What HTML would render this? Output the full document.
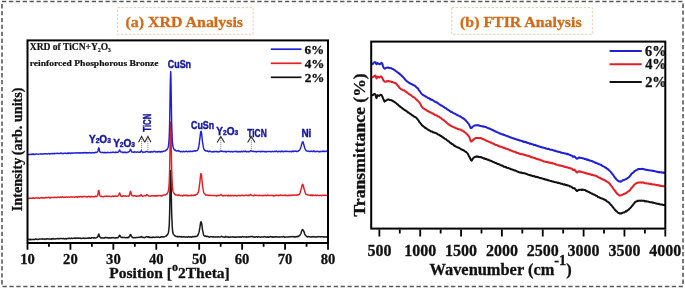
<!DOCTYPE html>
<html><head><meta charset="utf-8"><style>
html,body{margin:0;padding:0;background:#fff;}
body{width:685px;height:289px;overflow:hidden;}
svg{display:block;will-change:transform;}
.serif{font-family:"Liberation Serif",serif;font-weight:bold;}
.sans{font-family:"Liberation Sans",sans-serif;font-weight:bold;}
</style></head><body>
<svg width="685" height="289" viewBox="0 0 685 289">
<rect x="0" y="0" width="685" height="289" fill="#fff"/>
<!-- outer dashed border -->
<rect x="2" y="1.5" width="681" height="285" fill="none" stroke="#5a5a5a" stroke-width="1.6" stroke-dasharray="4.3 2.6"/>

<!-- title boxes -->
<rect x="117.6" y="7.6" width="135.5" height="26.7" fill="#fff" stroke="#eab890" stroke-width="0.8" stroke-dasharray="2.2 1.8"/>
<text class="serif" x="125.5" y="27.4" font-size="15.3" fill="#d26a16" stroke="#d26a16" stroke-width="0.3" textLength="117.5" lengthAdjust="spacingAndGlyphs">(a) XRD Analysis</text>
<rect x="451.8" y="7.6" width="140.5" height="26.7" fill="#fff" stroke="#eab890" stroke-width="0.8" stroke-dasharray="2.2 1.8"/>
<text class="serif" x="460.1" y="27.4" font-size="15.3" fill="#d26a16" stroke="#d26a16" stroke-width="0.3" textLength="121.5" lengthAdjust="spacingAndGlyphs">(b) FTIR Analysis</text>

<!-- ============ XRD ============ -->
<g fill="none" stroke-linejoin="round">
<path d="M27.5 239.6 L27.7 239.6 L27.9 239.5 L28.1 239.3 L28.4 239.5 L28.6 239.3 L28.8 239.3 L29.0 239.2 L29.2 239.6 L29.4 239.7 L29.6 239.7 L29.9 239.8 L30.1 239.4 L30.3 239.3 L30.5 239.3 L30.7 239.3 L30.9 239.4 L31.1 239.5 L31.4 239.6 L31.6 239.5 L31.8 239.7 L32.0 239.6 L32.2 239.6 L32.4 239.6 L32.7 239.5 L32.9 239.6 L33.1 239.6 L33.3 239.6 L33.5 239.6 L33.7 239.3 L33.9 239.3 L34.2 239.4 L34.4 239.4 L34.6 239.5 L34.8 239.5 L35.0 239.2 L35.2 239.2 L35.4 239.1 L35.7 238.9 L35.9 239.2 L36.1 239.2 L36.3 239.2 L36.5 239.2 L36.7 239.2 L36.9 239.1 L37.2 239.3 L37.4 239.5 L37.6 239.5 L37.8 239.6 L38.0 239.4 L38.2 239.2 L38.4 239.3 L38.7 239.2 L38.9 239.2 L39.1 239.2 L39.3 239.2 L39.5 238.9 L39.7 239.0 L39.9 239.1 L40.2 238.9 L40.4 239.1 L40.6 239.0 L40.8 239.0 L41.0 239.0 L41.2 238.9 L41.5 239.0 L41.7 239.0 L41.9 239.0 L42.1 239.0 L42.3 239.0 L42.5 238.8 L42.7 239.2 L43.0 239.1 L43.2 239.1 L43.4 239.1 L43.6 239.0 L43.8 239.1 L44.0 239.1 L44.2 239.0 L44.5 239.0 L44.7 239.1 L44.9 239.2 L45.1 239.4 L45.3 239.3 L45.5 239.2 L45.7 239.0 L46.0 238.8 L46.2 238.9 L46.4 238.8 L46.6 238.8 L46.8 238.9 L47.0 238.8 L47.2 239.0 L47.5 238.9 L47.7 238.8 L47.9 238.7 L48.1 238.8 L48.3 239.0 L48.5 239.1 L48.7 239.1 L49.0 239.0 L49.2 238.9 L49.4 239.0 L49.6 238.9 L49.8 238.9 L50.0 238.9 L50.3 238.9 L50.5 238.9 L50.7 239.2 L50.9 239.3 L51.1 239.4 L51.3 239.2 L51.5 238.9 L51.8 238.7 L52.0 238.6 L52.2 238.6 L52.4 238.7 L52.6 238.9 L52.8 238.7 L53.0 238.8 L53.3 238.6 L53.5 238.5 L53.7 238.7 L53.9 239.0 L54.1 239.0 L54.3 239.1 L54.5 239.0 L54.8 239.0 L55.0 239.1 L55.2 239.1 L55.4 239.0 L55.6 238.8 L55.8 238.7 L56.0 238.7 L56.3 238.8 L56.5 238.8 L56.7 238.8 L56.9 238.7 L57.1 238.6 L57.3 238.6 L57.6 238.6 L57.8 238.8 L58.0 238.8 L58.2 238.9 L58.4 238.7 L58.6 238.4 L58.8 238.4 L59.1 238.6 L59.3 238.7 L59.5 238.8 L59.7 238.8 L59.9 238.7 L60.1 238.5 L60.3 238.5 L60.6 238.5 L60.8 238.4 L61.0 238.5 L61.2 238.4 L61.4 238.4 L61.6 238.5 L61.8 238.5 L62.1 238.6 L62.3 238.7 L62.5 238.7 L62.7 238.8 L62.9 238.7 L63.1 238.7 L63.3 238.6 L63.6 238.4 L63.8 238.7 L64.0 238.7 L64.2 238.8 L64.4 238.8 L64.6 238.9 L64.8 238.7 L65.1 238.6 L65.3 238.7 L65.5 238.5 L65.7 238.7 L65.9 238.8 L66.1 238.9 L66.4 239.0 L66.6 238.7 L66.8 238.7 L67.0 238.5 L67.2 238.5 L67.4 238.5 L67.6 238.5 L67.9 238.6 L68.1 238.6 L68.3 238.6 L68.5 238.6 L68.7 238.3 L68.9 238.3 L69.1 238.1 L69.4 238.2 L69.6 238.4 L69.8 238.4 L70.0 238.6 L70.2 238.7 L70.4 238.6 L70.6 238.6 L70.9 238.6 L71.1 238.3 L71.3 238.3 L71.5 238.1 L71.7 238.2 L71.9 238.3 L72.1 238.4 L72.4 238.5 L72.6 238.4 L72.8 238.4 L73.0 238.3 L73.2 238.2 L73.4 238.3 L73.6 238.3 L73.9 238.3 L74.1 238.2 L74.3 238.2 L74.5 238.0 L74.7 238.0 L74.9 238.0 L75.2 238.1 L75.4 238.4 L75.6 238.2 L75.8 238.3 L76.0 238.2 L76.2 238.0 L76.4 238.2 L76.7 238.2 L76.9 238.0 L77.1 238.1 L77.3 238.0 L77.5 238.1 L77.7 238.1 L77.9 238.2 L78.2 238.3 L78.4 238.2 L78.6 238.2 L78.8 238.1 L79.0 238.0 L79.2 238.3 L79.4 238.3 L79.7 238.3 L79.9 238.2 L80.1 238.1 L80.3 238.2 L80.5 238.3 L80.7 238.4 L80.9 238.4 L81.2 238.2 L81.4 238.4 L81.6 238.4 L81.8 238.4 L82.0 238.4 L82.2 238.3 L82.4 238.2 L82.7 238.3 L82.9 238.3 L83.1 238.2 L83.3 238.2 L83.5 238.0 L83.7 238.0 L84.0 238.1 L84.2 238.3 L84.4 238.4 L84.6 238.5 L84.8 238.4 L85.0 238.4 L85.2 238.3 L85.5 238.2 L85.7 238.3 L85.9 238.3 L86.1 238.3 L86.3 238.3 L86.5 238.3 L86.7 238.3 L87.0 238.3 L87.2 238.3 L87.4 238.2 L87.6 238.1 L87.8 238.0 L88.0 238.0 L88.2 238.1 L88.5 238.0 L88.7 238.3 L88.9 238.3 L89.1 238.1 L89.3 238.2 L89.5 237.9 L89.7 237.8 L90.0 238.0 L90.2 237.9 L90.4 238.2 L90.6 238.3 L90.8 238.2 L91.0 238.3 L91.2 237.9 L91.5 237.8 L91.7 237.8 L91.9 237.7 L92.1 237.7 L92.3 237.8 L92.5 237.7 L92.8 237.7 L93.0 237.7 L93.2 237.8 L93.4 237.8 L93.6 238.0 L93.8 238.2 L94.0 238.1 L94.3 238.1 L94.5 237.9 L94.7 237.7 L94.9 237.8 L95.1 237.9 L95.3 238.1 L95.5 238.0 L95.8 238.0 L96.0 237.9 L96.2 237.8 L96.4 237.7 L96.6 237.5 L96.8 237.5 L97.0 237.3 L97.3 237.2 L97.5 237.2 L97.7 236.9 L97.9 236.7 L98.1 236.1 L98.3 235.2 L98.5 234.6 L98.8 234.0 L99.0 234.2 L99.2 235.0 L99.4 235.7 L99.6 236.2 L99.8 236.9 L100.0 237.0 L100.3 237.4 L100.5 237.8 L100.7 237.6 L100.9 237.9 L101.1 237.7 L101.3 237.7 L101.6 238.0 L101.8 237.9 L102.0 238.0 L102.2 238.0 L102.4 237.9 L102.6 237.8 L102.8 237.9 L103.1 237.9 L103.3 238.1 L103.5 238.1 L103.7 238.0 L103.9 238.0 L104.1 237.7 L104.3 237.8 L104.6 237.9 L104.8 237.9 L105.0 237.9 L105.2 237.8 L105.4 237.6 L105.6 237.4 L105.8 237.6 L106.1 237.6 L106.3 237.7 L106.5 237.7 L106.7 237.6 L106.9 237.7 L107.1 237.6 L107.3 237.8 L107.6 237.8 L107.8 237.8 L108.0 237.9 L108.2 238.0 L108.4 238.0 L108.6 237.9 L108.8 237.9 L109.1 237.7 L109.3 237.8 L109.5 237.7 L109.7 237.9 L109.9 237.9 L110.1 238.0 L110.4 238.1 L110.6 238.0 L110.8 237.8 L111.0 237.7 L111.2 237.6 L111.4 237.7 L111.6 237.9 L111.9 237.8 L112.1 237.7 L112.3 237.6 L112.5 237.7 L112.7 237.7 L112.9 237.7 L113.1 237.7 L113.4 237.5 L113.6 237.6 L113.8 237.7 L114.0 237.8 L114.2 237.9 L114.4 237.9 L114.6 238.0 L114.9 238.1 L115.1 238.1 L115.3 238.0 L115.5 238.0 L115.7 237.8 L115.9 237.8 L116.1 237.8 L116.4 237.9 L116.6 237.8 L116.8 237.7 L117.0 237.8 L117.2 237.5 L117.4 237.7 L117.7 237.7 L117.9 237.7 L118.1 237.6 L118.3 237.4 L118.5 237.2 L118.7 236.9 L118.9 236.5 L119.2 236.0 L119.4 235.5 L119.6 235.3 L119.8 235.3 L120.0 235.6 L120.2 236.2 L120.4 236.4 L120.7 236.8 L120.9 237.2 L121.1 237.3 L121.3 237.4 L121.5 237.5 L121.7 237.4 L121.9 237.4 L122.2 237.4 L122.4 237.2 L122.6 237.4 L122.8 237.3 L123.0 237.4 L123.2 237.5 L123.4 237.5 L123.7 237.5 L123.9 237.6 L124.1 237.7 L124.3 237.6 L124.5 237.5 L124.7 237.5 L124.9 237.5 L125.2 237.7 L125.4 237.8 L125.6 237.8 L125.8 237.7 L126.0 237.7 L126.2 237.6 L126.5 237.6 L126.7 237.7 L126.9 237.6 L127.1 237.6 L127.3 237.5 L127.5 237.6 L127.7 237.9 L128.0 237.8 L128.2 237.8 L128.4 237.4 L128.6 237.2 L128.8 237.1 L129.0 236.9 L129.2 237.0 L129.5 236.6 L129.7 236.1 L129.9 235.7 L130.1 234.9 L130.3 234.7 L130.5 234.6 L130.7 234.6 L131.0 235.1 L131.2 235.6 L131.4 236.1 L131.6 236.5 L131.8 236.9 L132.0 237.0 L132.2 237.1 L132.5 237.4 L132.7 237.5 L132.9 237.7 L133.1 237.8 L133.3 237.8 L133.5 237.9 L133.7 237.8 L134.0 237.8 L134.2 237.6 L134.4 237.6 L134.6 237.5 L134.8 237.6 L135.0 237.7 L135.3 237.6 L135.5 237.7 L135.7 237.7 L135.9 237.7 L136.1 237.6 L136.3 237.6 L136.5 237.4 L136.8 237.4 L137.0 237.4 L137.2 237.4 L137.4 237.6 L137.6 237.6 L137.8 237.6 L138.0 237.5 L138.3 237.4 L138.5 237.4 L138.7 237.3 L138.9 237.3 L139.1 237.3 L139.3 237.4 L139.5 237.4 L139.8 237.3 L140.0 237.2 L140.2 237.3 L140.4 237.3 L140.6 237.2 L140.8 237.0 L141.0 236.7 L141.3 236.5 L141.5 236.6 L141.7 236.7 L141.9 237.0 L142.1 237.0 L142.3 237.3 L142.5 237.4 L142.8 237.5 L143.0 237.6 L143.2 237.5 L143.4 237.5 L143.6 237.3 L143.8 237.5 L144.1 237.4 L144.3 237.4 L144.5 237.6 L144.7 237.4 L144.9 237.4 L145.1 237.4 L145.3 237.3 L145.6 237.2 L145.8 237.1 L146.0 236.8 L146.2 236.8 L146.4 236.7 L146.6 236.6 L146.8 236.8 L147.1 236.7 L147.3 236.8 L147.5 237.1 L147.7 237.2 L147.9 237.2 L148.1 237.0 L148.3 236.8 L148.6 236.8 L148.8 237.0 L149.0 237.2 L149.2 237.4 L149.4 237.2 L149.6 237.3 L149.8 237.4 L150.1 237.3 L150.3 237.5 L150.5 237.4 L150.7 237.4 L150.9 237.3 L151.1 237.4 L151.3 237.6 L151.6 237.5 L151.8 237.4 L152.0 237.2 L152.2 237.0 L152.4 237.2 L152.6 237.4 L152.9 237.4 L153.1 237.3 L153.3 237.3 L153.5 237.1 L153.7 237.3 L153.9 237.3 L154.1 237.3 L154.4 237.4 L154.6 237.4 L154.8 237.5 L155.0 237.3 L155.2 237.3 L155.4 237.2 L155.6 237.2 L155.9 237.4 L156.1 237.3 L156.3 237.2 L156.5 237.1 L156.7 237.0 L156.9 237.1 L157.1 237.1 L157.4 237.2 L157.6 237.3 L157.8 237.2 L158.0 237.1 L158.2 237.0 L158.4 237.1 L158.6 236.9 L158.9 237.1 L159.1 237.3 L159.3 237.2 L159.5 237.4 L159.7 237.5 L159.9 237.5 L160.1 237.3 L160.4 237.3 L160.6 237.0 L160.8 236.9 L161.0 236.8 L161.2 236.8 L161.4 236.8 L161.7 236.8 L161.9 237.0 L162.1 236.9 L162.3 237.0 L162.5 236.8 L162.7 236.9 L162.9 236.9 L163.2 236.9 L163.4 237.0 L163.6 237.0 L163.8 236.8 L164.0 236.9 L164.2 236.7 L164.4 236.7 L164.7 236.6 L164.9 236.5 L165.1 236.4 L165.3 236.2 L165.5 236.2 L165.7 236.1 L165.9 236.1 L166.2 236.1 L166.4 235.9 L166.6 235.6 L166.8 235.3 L167.0 235.1 L167.2 234.8 L167.4 234.6 L167.7 234.3 L167.9 233.9 L168.1 233.4 L168.3 233.0 L168.5 232.1 L168.7 230.9 L168.9 228.9 L169.2 225.7 L169.4 220.9 L169.6 214.2 L169.8 205.3 L170.0 194.7 L170.2 183.4 L170.5 174.1 L170.7 170.5 L170.9 174.3 L171.1 183.8 L171.3 195.0 L171.5 205.7 L171.7 214.5 L172.0 221.0 L172.2 225.9 L172.4 228.9 L172.6 231.2 L172.8 232.5 L173.0 233.1 L173.2 233.8 L173.5 234.3 L173.7 234.6 L173.9 235.0 L174.1 235.0 L174.3 235.1 L174.5 235.4 L174.7 235.6 L175.0 235.8 L175.2 235.8 L175.4 235.9 L175.6 236.0 L175.8 236.2 L176.0 236.5 L176.2 236.4 L176.5 236.5 L176.7 236.5 L176.9 236.5 L177.1 236.7 L177.3 236.4 L177.5 236.5 L177.8 236.5 L178.0 236.5 L178.2 236.8 L178.4 236.9 L178.6 236.8 L178.8 236.7 L179.0 236.6 L179.3 236.6 L179.5 236.7 L179.7 236.6 L179.9 236.6 L180.1 236.7 L180.3 236.8 L180.5 236.8 L180.8 236.9 L181.0 236.6 L181.2 236.6 L181.4 237.0 L181.6 236.8 L181.8 237.1 L182.0 237.0 L182.3 237.0 L182.5 236.9 L182.7 236.9 L182.9 237.0 L183.1 236.8 L183.3 237.0 L183.5 236.8 L183.8 236.8 L184.0 236.8 L184.2 236.7 L184.4 236.9 L184.6 237.1 L184.8 237.0 L185.0 237.0 L185.3 236.9 L185.5 236.8 L185.7 236.9 L185.9 236.9 L186.1 237.0 L186.3 237.1 L186.6 236.9 L186.8 237.0 L187.0 236.9 L187.2 236.9 L187.4 237.1 L187.6 236.9 L187.8 237.0 L188.1 236.9 L188.3 236.7 L188.5 236.6 L188.7 236.6 L188.9 236.7 L189.1 236.7 L189.3 237.0 L189.6 237.1 L189.8 237.2 L190.0 237.2 L190.2 237.0 L190.4 236.9 L190.6 236.7 L190.8 236.7 L191.1 236.8 L191.3 236.9 L191.5 237.0 L191.7 237.2 L191.9 237.0 L192.1 236.9 L192.3 236.8 L192.6 236.6 L192.8 236.6 L193.0 236.8 L193.2 236.9 L193.4 236.8 L193.6 236.8 L193.8 236.6 L194.1 236.4 L194.3 236.5 L194.5 236.6 L194.7 236.6 L194.9 236.8 L195.1 236.7 L195.4 236.4 L195.6 236.5 L195.8 236.5 L196.0 236.4 L196.2 236.5 L196.4 236.3 L196.6 236.2 L196.9 236.3 L197.1 236.1 L197.3 236.0 L197.5 235.8 L197.7 235.6 L197.9 235.2 L198.1 234.5 L198.4 234.0 L198.6 233.3 L198.8 232.8 L199.0 232.2 L199.2 231.3 L199.4 230.2 L199.6 228.8 L199.9 227.4 L200.1 225.8 L200.3 224.5 L200.5 223.3 L200.7 222.2 L200.9 221.9 L201.1 221.8 L201.4 222.4 L201.6 223.4 L201.8 224.5 L202.0 225.9 L202.2 227.4 L202.4 228.8 L202.6 230.2 L202.9 231.4 L203.1 232.4 L203.3 233.5 L203.5 234.2 L203.7 235.0 L203.9 235.4 L204.2 235.8 L204.4 236.0 L204.6 235.9 L204.8 236.2 L205.0 236.1 L205.2 236.1 L205.4 236.3 L205.7 236.0 L205.9 236.1 L206.1 236.1 L206.3 236.4 L206.5 236.6 L206.7 236.5 L206.9 236.5 L207.2 236.4 L207.4 236.2 L207.6 236.3 L207.8 236.5 L208.0 236.5 L208.2 236.6 L208.4 236.7 L208.7 236.8 L208.9 237.0 L209.1 237.1 L209.3 237.2 L209.5 237.0 L209.7 236.9 L209.9 236.8 L210.2 236.8 L210.4 236.8 L210.6 236.6 L210.8 236.7 L211.0 236.7 L211.2 236.7 L211.4 236.8 L211.7 236.8 L211.9 236.8 L212.1 236.8 L212.3 236.9 L212.5 236.8 L212.7 237.0 L213.0 237.1 L213.2 237.0 L213.4 236.8 L213.6 236.7 L213.8 236.7 L214.0 236.9 L214.2 237.1 L214.5 237.1 L214.7 236.9 L214.9 236.9 L215.1 236.9 L215.3 237.0 L215.5 237.0 L215.7 236.9 L216.0 236.8 L216.2 236.9 L216.4 236.9 L216.6 236.9 L216.8 236.9 L217.0 236.9 L217.2 237.0 L217.5 237.0 L217.7 236.9 L217.9 236.7 L218.1 236.8 L218.3 236.7 L218.5 236.7 L218.7 236.9 L219.0 236.9 L219.2 237.0 L219.4 237.1 L219.6 237.1 L219.8 237.1 L220.0 237.0 L220.2 237.0 L220.5 236.9 L220.7 236.8 L220.9 236.7 L221.1 236.6 L221.3 236.5 L221.5 236.3 L221.8 236.5 L222.0 236.4 L222.2 236.7 L222.4 236.8 L222.6 236.9 L222.8 237.0 L223.0 236.9 L223.3 237.0 L223.5 237.0 L223.7 236.9 L223.9 237.1 L224.1 237.2 L224.3 237.2 L224.5 237.3 L224.8 237.2 L225.0 237.1 L225.2 236.9 L225.4 236.6 L225.6 236.6 L225.8 236.4 L226.0 236.7 L226.3 237.0 L226.5 237.0 L226.7 237.0 L226.9 236.9 L227.1 236.8 L227.3 236.8 L227.5 236.9 L227.8 236.9 L228.0 237.0 L228.2 237.0 L228.4 237.1 L228.6 237.3 L228.8 237.1 L229.0 237.4 L229.3 237.2 L229.5 237.2 L229.7 237.3 L229.9 237.1 L230.1 237.1 L230.3 237.0 L230.6 237.1 L230.8 237.2 L231.0 237.1 L231.2 237.0 L231.4 237.0 L231.6 237.0 L231.8 237.1 L232.1 237.1 L232.3 237.0 L232.5 236.8 L232.7 236.7 L232.9 236.9 L233.1 236.9 L233.3 237.0 L233.6 237.0 L233.8 237.0 L234.0 237.2 L234.2 237.2 L234.4 237.3 L234.6 237.1 L234.8 237.1 L235.1 237.2 L235.3 237.1 L235.5 237.3 L235.7 237.1 L235.9 237.1 L236.1 237.2 L236.3 237.0 L236.6 237.0 L236.8 237.0 L237.0 236.9 L237.2 236.9 L237.4 237.1 L237.6 237.1 L237.9 237.0 L238.1 237.0 L238.3 236.9 L238.5 237.0 L238.7 237.1 L238.9 237.2 L239.1 237.0 L239.4 236.9 L239.6 236.9 L239.8 236.8 L240.0 237.0 L240.2 236.8 L240.4 237.1 L240.6 237.0 L240.9 237.0 L241.1 237.3 L241.3 237.1 L241.5 237.2 L241.7 236.9 L241.9 236.7 L242.1 236.7 L242.4 236.6 L242.6 236.8 L242.8 236.7 L243.0 236.7 L243.2 236.8 L243.4 236.8 L243.6 237.0 L243.9 236.9 L244.1 236.8 L244.3 236.8 L244.5 236.9 L244.7 236.9 L244.9 237.1 L245.1 237.1 L245.4 237.1 L245.6 237.1 L245.8 236.9 L246.0 236.8 L246.2 236.9 L246.4 236.8 L246.7 236.9 L246.9 237.1 L247.1 236.9 L247.3 237.0 L247.5 237.0 L247.7 236.9 L247.9 237.1 L248.2 236.9 L248.4 236.7 L248.6 236.7 L248.8 236.5 L249.0 236.7 L249.2 236.9 L249.4 236.8 L249.7 236.8 L249.9 236.8 L250.1 236.8 L250.3 236.7 L250.5 236.7 L250.7 236.5 L250.9 236.4 L251.2 236.5 L251.4 236.6 L251.6 236.7 L251.8 236.7 L252.0 236.6 L252.2 236.5 L252.4 236.4 L252.7 236.7 L252.9 236.9 L253.1 237.0 L253.3 236.9 L253.5 236.9 L253.7 236.8 L253.9 236.8 L254.2 237.0 L254.4 237.0 L254.6 237.0 L254.8 237.2 L255.0 237.2 L255.2 237.2 L255.5 237.0 L255.7 236.9 L255.9 236.8 L256.1 236.8 L256.3 236.8 L256.5 236.7 L256.7 236.8 L257.0 236.9 L257.2 237.1 L257.4 237.3 L257.6 237.1 L257.8 237.0 L258.0 236.8 L258.2 236.7 L258.5 236.6 L258.7 236.7 L258.9 236.8 L259.1 236.7 L259.3 236.9 L259.5 237.0 L259.7 237.0 L260.0 237.1 L260.2 237.2 L260.4 237.2 L260.6 237.2 L260.8 237.1 L261.0 237.1 L261.2 237.0 L261.5 236.9 L261.7 237.0 L261.9 236.8 L262.1 236.9 L262.3 237.1 L262.5 237.0 L262.7 237.1 L263.0 237.1 L263.2 237.1 L263.4 236.9 L263.6 236.8 L263.8 236.9 L264.0 236.8 L264.3 236.8 L264.5 236.8 L264.7 236.6 L264.9 236.5 L265.1 236.8 L265.3 236.9 L265.5 236.9 L265.8 236.9 L266.0 236.9 L266.2 237.1 L266.4 237.0 L266.6 237.2 L266.8 237.2 L267.0 237.1 L267.3 237.2 L267.5 237.0 L267.7 236.8 L267.9 236.8 L268.1 236.9 L268.3 237.1 L268.5 237.3 L268.8 237.3 L269.0 237.2 L269.2 236.9 L269.4 236.9 L269.6 236.8 L269.8 236.9 L270.0 236.8 L270.3 236.8 L270.5 236.6 L270.7 236.6 L270.9 236.7 L271.1 236.7 L271.3 236.8 L271.5 236.8 L271.8 237.1 L272.0 237.0 L272.2 236.7 L272.4 236.8 L272.6 236.8 L272.8 237.1 L273.1 237.3 L273.3 237.2 L273.5 237.1 L273.7 236.9 L273.9 236.8 L274.1 236.8 L274.3 236.7 L274.6 237.0 L274.8 236.9 L275.0 236.8 L275.2 237.0 L275.4 236.8 L275.6 236.8 L275.8 236.7 L276.1 236.6 L276.3 236.7 L276.5 236.9 L276.7 237.1 L276.9 237.1 L277.1 237.0 L277.3 237.0 L277.6 236.9 L277.8 236.9 L278.0 236.8 L278.2 236.9 L278.4 237.0 L278.6 237.1 L278.8 237.2 L279.1 237.0 L279.3 236.9 L279.5 237.0 L279.7 236.8 L279.9 236.9 L280.1 237.0 L280.3 236.9 L280.6 236.9 L280.8 236.9 L281.0 237.0 L281.2 236.9 L281.4 236.8 L281.6 236.8 L281.9 236.7 L282.1 236.8 L282.3 236.9 L282.5 236.9 L282.7 236.9 L282.9 236.8 L283.1 236.7 L283.4 236.6 L283.6 236.5 L283.8 236.5 L284.0 236.7 L284.2 236.9 L284.4 237.0 L284.6 237.2 L284.9 237.3 L285.1 237.2 L285.3 237.3 L285.5 237.2 L285.7 237.1 L285.9 237.1 L286.1 237.1 L286.4 237.0 L286.6 237.1 L286.8 237.1 L287.0 237.1 L287.2 237.0 L287.4 237.0 L287.6 236.9 L287.9 236.9 L288.1 236.8 L288.3 236.8 L288.5 236.9 L288.7 236.9 L288.9 237.0 L289.1 237.1 L289.4 236.9 L289.6 236.7 L289.8 236.7 L290.0 236.6 L290.2 236.8 L290.4 236.8 L290.7 236.9 L290.9 236.8 L291.1 236.6 L291.3 236.7 L291.5 236.7 L291.7 236.8 L291.9 236.7 L292.2 236.7 L292.4 236.6 L292.6 236.6 L292.8 236.6 L293.0 236.5 L293.2 236.5 L293.4 236.7 L293.7 236.7 L293.9 236.9 L294.1 236.9 L294.3 236.8 L294.5 237.0 L294.7 236.8 L294.9 237.0 L295.2 237.1 L295.4 237.0 L295.6 237.0 L295.8 236.7 L296.0 236.5 L296.2 236.6 L296.4 236.6 L296.7 236.8 L296.9 236.8 L297.1 236.7 L297.3 236.8 L297.5 236.4 L297.7 236.3 L298.0 236.4 L298.2 236.2 L298.4 236.3 L298.6 236.4 L298.8 236.2 L299.0 236.1 L299.2 235.8 L299.5 235.4 L299.7 235.4 L299.9 235.0 L300.1 234.8 L300.3 234.7 L300.5 234.3 L300.7 233.8 L301.0 233.3 L301.2 232.5 L301.4 231.8 L301.6 231.2 L301.8 230.7 L302.0 230.2 L302.2 229.9 L302.5 229.6 L302.7 229.7 L302.9 229.9 L303.1 230.0 L303.3 230.4 L303.5 230.7 L303.7 231.0 L304.0 231.9 L304.2 232.3 L304.4 233.0 L304.6 233.8 L304.8 234.1 L305.0 234.5 L305.2 235.0 L305.5 235.3 L305.7 235.7 L305.9 235.8 L306.1 235.9 L306.3 235.9 L306.5 236.2 L306.8 236.5 L307.0 236.7 L307.2 236.9 L307.4 236.7 L307.6 236.7 L307.8 236.7 L308.0 236.5 L308.3 236.6 L308.5 236.6 L308.7 236.5 L308.9 236.7 L309.1 236.8 L309.3 236.8 L309.5 236.8 L309.8 236.8 L310.0 236.9 L310.2 236.9 L310.4 236.9 L310.6 236.9 L310.8 236.9 L311.0 236.8 L311.3 236.9 L311.5 237.1 L311.7 237.0 L311.9 237.0 L312.1 236.9 L312.3 236.6 L312.5 236.8 L312.8 236.8 L313.0 236.7 L313.2 236.7 L313.4 236.6 L313.6 236.7 L313.8 236.7 L314.0 236.9 L314.3 236.8 L314.5 236.8 L314.7 236.9 L314.9 236.9 L315.1 236.9 L315.3 236.9 L315.6 236.9 L315.8 236.7 L316.0 236.7 L316.2 236.8 L316.4 236.9 L316.6 237.0 L316.8 236.9 L317.1 236.9 L317.3 236.7 L317.5 236.7 L317.7 236.8 L317.9 236.8 L318.1 236.8 L318.3 236.8 L318.6 236.5 L318.8 236.6 L319.0 236.6 L319.2 236.7 L319.4 236.8 L319.6 236.7 L319.8 236.8 L320.1 236.8 L320.3 236.8 L320.5 236.9 L320.7 236.9 L320.9 236.7 L321.1 236.9 L321.3 236.8 L321.6 236.7 L321.8 236.8 L322.0 236.7 L322.2 236.8 L322.4 236.8 L322.6 236.7 L322.8 236.7 L323.1 236.7 L323.3 236.8 L323.5 236.9 L323.7 237.1 L323.9 237.1 L324.1 236.9 L324.4 236.9 L324.6 236.7 L324.8 236.7 L325.0 236.9 L325.2 236.8 L325.4 236.9 L325.6 237.1 L325.9 237.0 L326.1 237.1 L326.3 237.2 L326.5 236.9 L326.7 236.9 L326.9 236.9 L327.1 236.6 L327.4 236.8 L327.6 236.7 L327.8 236.6 L328.0 236.8" stroke="#1a1a1a" stroke-width="1.5"/>
<path d="M27.5 198.3 L27.7 198.2 L27.9 198.0 L28.1 198.1 L28.4 198.3 L28.6 198.3 L28.8 198.6 L29.0 198.4 L29.2 198.2 L29.4 198.4 L29.6 198.3 L29.9 198.2 L30.1 198.2 L30.3 198.1 L30.5 198.1 L30.7 198.2 L30.9 198.2 L31.1 198.2 L31.4 198.1 L31.6 198.1 L31.8 198.2 L32.0 198.2 L32.2 198.3 L32.4 198.1 L32.7 198.2 L32.9 198.3 L33.1 198.1 L33.3 198.0 L33.5 197.8 L33.7 197.7 L33.9 197.9 L34.2 198.1 L34.4 198.3 L34.6 198.2 L34.8 198.2 L35.0 198.1 L35.2 198.1 L35.4 198.0 L35.7 197.9 L35.9 198.0 L36.1 198.0 L36.3 198.1 L36.5 198.0 L36.7 197.9 L36.9 197.8 L37.2 197.9 L37.4 198.1 L37.6 198.0 L37.8 198.0 L38.0 198.1 L38.2 197.8 L38.4 198.0 L38.7 198.0 L38.9 197.9 L39.1 198.1 L39.3 198.3 L39.5 198.2 L39.7 198.2 L39.9 198.0 L40.2 197.8 L40.4 197.8 L40.6 197.8 L40.8 197.9 L41.0 197.8 L41.2 197.8 L41.5 197.6 L41.7 197.4 L41.9 197.5 L42.1 197.6 L42.3 197.8 L42.5 198.0 L42.7 197.9 L43.0 197.9 L43.2 197.7 L43.4 197.6 L43.6 197.6 L43.8 197.7 L44.0 197.7 L44.2 197.9 L44.5 197.9 L44.7 197.7 L44.9 197.7 L45.1 197.7 L45.3 197.6 L45.5 197.7 L45.7 197.5 L46.0 197.5 L46.2 197.7 L46.4 197.6 L46.6 197.8 L46.8 197.7 L47.0 197.7 L47.2 197.6 L47.5 197.5 L47.7 197.6 L47.9 197.5 L48.1 197.5 L48.3 197.5 L48.5 197.4 L48.7 197.3 L49.0 197.3 L49.2 197.4 L49.4 197.5 L49.6 197.7 L49.8 198.0 L50.0 198.0 L50.3 197.8 L50.5 197.9 L50.7 197.6 L50.9 197.7 L51.1 197.6 L51.3 197.5 L51.5 197.4 L51.8 197.4 L52.0 197.4 L52.2 197.3 L52.4 197.6 L52.6 197.6 L52.8 197.6 L53.0 197.6 L53.3 197.5 L53.5 197.4 L53.7 197.4 L53.9 197.6 L54.1 197.5 L54.3 197.5 L54.5 197.4 L54.8 197.2 L55.0 197.2 L55.2 197.2 L55.4 197.3 L55.6 197.5 L55.8 197.5 L56.0 197.6 L56.3 197.4 L56.5 197.5 L56.7 197.6 L56.9 197.6 L57.1 197.5 L57.3 197.3 L57.6 197.3 L57.8 197.2 L58.0 197.3 L58.2 197.2 L58.4 197.3 L58.6 197.2 L58.8 197.3 L59.1 197.4 L59.3 197.5 L59.5 197.4 L59.7 197.3 L59.9 197.2 L60.1 197.1 L60.3 197.2 L60.6 197.1 L60.8 197.2 L61.0 197.3 L61.2 197.4 L61.4 197.4 L61.6 197.3 L61.8 197.1 L62.1 197.0 L62.3 196.8 L62.5 197.0 L62.7 197.1 L62.9 197.1 L63.1 197.3 L63.3 197.3 L63.6 197.4 L63.8 197.3 L64.0 197.2 L64.2 197.2 L64.4 197.1 L64.6 197.3 L64.8 197.3 L65.1 197.1 L65.3 197.1 L65.5 196.9 L65.7 197.0 L65.9 197.2 L66.1 197.1 L66.4 197.1 L66.6 197.0 L66.8 196.9 L67.0 197.2 L67.2 197.3 L67.4 197.3 L67.6 197.3 L67.9 197.0 L68.1 197.0 L68.3 197.1 L68.5 197.0 L68.7 197.1 L68.9 197.1 L69.1 197.2 L69.4 197.3 L69.6 197.2 L69.8 197.3 L70.0 196.9 L70.2 197.0 L70.4 197.0 L70.6 197.0 L70.9 197.0 L71.1 197.1 L71.3 197.2 L71.5 196.9 L71.7 196.8 L71.9 196.7 L72.1 196.8 L72.4 196.9 L72.6 197.1 L72.8 197.1 L73.0 197.1 L73.2 197.1 L73.4 197.1 L73.6 197.0 L73.9 197.1 L74.1 197.1 L74.3 197.0 L74.5 197.3 L74.7 197.2 L74.9 197.1 L75.2 197.0 L75.4 196.9 L75.6 196.8 L75.8 196.8 L76.0 196.8 L76.2 196.9 L76.4 196.8 L76.7 196.8 L76.9 197.2 L77.1 197.3 L77.3 197.4 L77.5 197.4 L77.7 197.2 L77.9 196.8 L78.2 196.7 L78.4 196.7 L78.6 196.5 L78.8 196.6 L79.0 196.6 L79.2 196.7 L79.4 196.8 L79.7 197.0 L79.9 196.9 L80.1 196.8 L80.3 196.6 L80.5 196.5 L80.7 196.6 L80.9 196.7 L81.2 196.9 L81.4 196.8 L81.6 196.7 L81.8 196.7 L82.0 196.5 L82.2 196.8 L82.4 196.9 L82.7 196.9 L82.9 196.9 L83.1 196.7 L83.3 196.5 L83.5 196.6 L83.7 196.6 L84.0 196.5 L84.2 196.6 L84.4 196.5 L84.6 196.5 L84.8 196.4 L85.0 196.4 L85.2 196.4 L85.5 196.4 L85.7 196.6 L85.9 196.8 L86.1 196.9 L86.3 196.9 L86.5 197.0 L86.7 196.8 L87.0 196.8 L87.2 196.9 L87.4 196.7 L87.6 196.8 L87.8 196.8 L88.0 196.5 L88.2 196.5 L88.5 196.4 L88.7 196.2 L88.9 196.3 L89.1 196.3 L89.3 196.4 L89.5 196.6 L89.7 196.9 L90.0 196.9 L90.2 197.0 L90.4 197.0 L90.6 196.8 L90.8 196.7 L91.0 196.4 L91.2 196.3 L91.5 196.4 L91.7 196.6 L91.9 196.8 L92.1 196.9 L92.3 196.8 L92.5 196.8 L92.8 196.8 L93.0 196.7 L93.2 196.8 L93.4 196.6 L93.6 196.6 L93.8 196.7 L94.0 196.7 L94.3 196.8 L94.5 196.7 L94.7 196.6 L94.9 196.5 L95.1 196.3 L95.3 196.1 L95.5 196.2 L95.8 196.5 L96.0 196.4 L96.2 196.6 L96.4 196.5 L96.6 196.2 L96.8 196.3 L97.0 196.1 L97.3 196.0 L97.5 195.8 L97.7 195.2 L97.9 194.6 L98.1 193.3 L98.3 191.9 L98.5 190.8 L98.8 190.4 L99.0 190.8 L99.2 192.1 L99.4 193.3 L99.6 194.3 L99.8 195.2 L100.0 195.7 L100.3 196.3 L100.5 196.4 L100.7 196.4 L100.9 196.3 L101.1 196.2 L101.3 196.2 L101.6 196.4 L101.8 196.6 L102.0 196.7 L102.2 196.8 L102.4 196.7 L102.6 196.7 L102.8 196.6 L103.1 196.4 L103.3 196.6 L103.5 196.7 L103.7 196.7 L103.9 196.7 L104.1 196.6 L104.3 196.4 L104.6 196.3 L104.8 196.3 L105.0 196.3 L105.2 196.3 L105.4 196.4 L105.6 196.5 L105.8 196.4 L106.1 196.5 L106.3 196.3 L106.5 196.0 L106.7 196.1 L106.9 196.0 L107.1 196.2 L107.3 196.3 L107.6 196.3 L107.8 196.3 L108.0 196.4 L108.2 196.5 L108.4 196.6 L108.6 196.5 L108.8 196.3 L109.1 196.3 L109.3 196.3 L109.5 196.3 L109.7 196.2 L109.9 196.3 L110.1 196.4 L110.4 196.5 L110.6 196.6 L110.8 196.6 L111.0 196.5 L111.2 196.5 L111.4 196.6 L111.6 196.7 L111.9 196.5 L112.1 196.4 L112.3 196.1 L112.5 196.0 L112.7 196.2 L112.9 196.3 L113.1 196.3 L113.4 196.6 L113.6 196.5 L113.8 196.3 L114.0 196.4 L114.2 196.3 L114.4 196.2 L114.6 196.1 L114.9 196.0 L115.1 196.1 L115.3 195.9 L115.5 196.1 L115.7 196.2 L115.9 196.1 L116.1 196.3 L116.4 196.2 L116.6 196.1 L116.8 196.1 L117.0 196.2 L117.2 196.1 L117.4 196.2 L117.7 196.2 L117.9 195.9 L118.1 195.9 L118.3 195.6 L118.5 195.2 L118.7 194.8 L118.9 194.2 L119.2 193.5 L119.4 193.2 L119.6 192.9 L119.8 193.2 L120.0 193.8 L120.2 194.3 L120.4 195.1 L120.7 195.5 L120.9 196.0 L121.1 196.3 L121.3 196.1 L121.5 196.3 L121.7 196.2 L121.9 196.3 L122.2 196.4 L122.4 196.2 L122.6 196.1 L122.8 195.8 L123.0 195.7 L123.2 195.7 L123.4 195.8 L123.7 195.9 L123.9 195.9 L124.1 196.1 L124.3 196.1 L124.5 196.1 L124.7 196.0 L124.9 195.7 L125.2 195.8 L125.4 195.7 L125.6 195.9 L125.8 196.0 L126.0 196.1 L126.2 196.2 L126.5 196.1 L126.7 196.1 L126.9 196.2 L127.1 196.1 L127.3 196.1 L127.5 196.1 L127.7 196.1 L128.0 196.0 L128.2 196.1 L128.4 196.0 L128.6 196.2 L128.8 196.2 L129.0 196.0 L129.2 195.6 L129.5 194.9 L129.7 194.3 L129.9 193.3 L130.1 192.4 L130.3 191.6 L130.5 191.3 L130.7 191.7 L131.0 192.5 L131.2 193.5 L131.4 194.4 L131.6 195.0 L131.8 195.3 L132.0 195.4 L132.2 195.5 L132.5 195.7 L132.7 195.9 L132.9 195.8 L133.1 196.0 L133.3 195.8 L133.5 195.8 L133.7 195.9 L134.0 195.9 L134.2 195.8 L134.4 195.7 L134.6 195.8 L134.8 195.7 L135.0 195.8 L135.3 195.9 L135.5 196.0 L135.7 196.0 L135.9 196.1 L136.1 196.3 L136.3 196.1 L136.5 196.2 L136.8 196.1 L137.0 195.9 L137.2 195.9 L137.4 195.9 L137.6 195.9 L137.8 195.9 L138.0 195.9 L138.3 196.0 L138.5 196.1 L138.7 196.1 L138.9 196.2 L139.1 195.9 L139.3 195.8 L139.5 195.8 L139.8 195.7 L140.0 195.9 L140.2 195.9 L140.4 195.6 L140.6 195.5 L140.8 195.0 L141.0 194.8 L141.3 194.7 L141.5 194.7 L141.7 195.1 L141.9 195.4 L142.1 195.8 L142.3 196.2 L142.5 196.1 L142.8 196.2 L143.0 196.1 L143.2 196.1 L143.4 196.1 L143.6 196.0 L143.8 196.0 L144.1 195.8 L144.3 195.8 L144.5 195.6 L144.7 195.6 L144.9 195.6 L145.1 195.6 L145.3 195.7 L145.6 195.7 L145.8 195.9 L146.0 195.8 L146.2 195.4 L146.4 195.2 L146.6 194.7 L146.8 194.6 L147.1 194.8 L147.3 194.9 L147.5 195.2 L147.7 195.3 L147.9 195.4 L148.1 195.5 L148.3 195.6 L148.6 195.8 L148.8 195.9 L149.0 195.9 L149.2 196.0 L149.4 195.9 L149.6 196.1 L149.8 196.2 L150.1 196.1 L150.3 196.2 L150.5 196.2 L150.7 196.1 L150.9 196.1 L151.1 195.8 L151.3 195.7 L151.6 195.6 L151.8 195.6 L152.0 195.7 L152.2 195.7 L152.4 195.8 L152.6 195.8 L152.9 195.9 L153.1 195.9 L153.3 195.8 L153.5 195.8 L153.7 195.9 L153.9 195.9 L154.1 196.1 L154.4 195.8 L154.6 195.6 L154.8 195.6 L155.0 195.7 L155.2 195.7 L155.4 195.7 L155.6 195.9 L155.9 195.6 L156.1 195.8 L156.3 195.9 L156.5 195.7 L156.7 195.9 L156.9 196.0 L157.1 195.9 L157.4 195.9 L157.6 195.8 L157.8 195.5 L158.0 195.5 L158.2 195.7 L158.4 195.7 L158.6 195.6 L158.9 195.6 L159.1 195.5 L159.3 195.5 L159.5 195.6 L159.7 195.6 L159.9 195.6 L160.1 195.6 L160.4 195.7 L160.6 195.5 L160.8 195.7 L161.0 195.6 L161.2 195.8 L161.4 196.2 L161.7 196.0 L161.9 195.8 L162.1 195.7 L162.3 195.4 L162.5 195.4 L162.7 195.3 L162.9 195.4 L163.2 195.3 L163.4 195.2 L163.6 195.2 L163.8 194.9 L164.0 195.0 L164.2 195.0 L164.4 194.9 L164.7 195.0 L164.9 194.9 L165.1 194.9 L165.3 195.0 L165.5 194.9 L165.7 194.8 L165.9 194.6 L166.2 194.5 L166.4 194.4 L166.6 194.3 L166.8 194.1 L167.0 193.8 L167.2 193.6 L167.4 193.2 L167.7 192.8 L167.9 192.3 L168.1 191.6 L168.3 190.9 L168.5 190.0 L168.7 188.5 L168.9 186.3 L169.2 182.8 L169.4 177.9 L169.6 170.8 L169.8 161.1 L170.0 149.3 L170.2 136.7 L170.5 126.2 L170.7 122.1 L170.9 126.5 L171.1 136.7 L171.3 149.2 L171.5 161.1 L171.7 170.4 L172.0 177.7 L172.2 182.8 L172.4 186.2 L172.6 188.5 L172.8 190.1 L173.0 191.2 L173.2 191.8 L173.5 192.3 L173.7 192.7 L173.9 192.9 L174.1 193.4 L174.3 193.8 L174.5 193.9 L174.7 194.4 L175.0 194.4 L175.2 194.5 L175.4 194.8 L175.6 194.7 L175.8 194.9 L176.0 195.0 L176.2 195.0 L176.5 194.9 L176.7 194.9 L176.9 194.9 L177.1 194.9 L177.3 195.1 L177.5 195.1 L177.8 195.2 L178.0 195.4 L178.2 195.3 L178.4 195.3 L178.6 195.2 L178.8 194.8 L179.0 195.1 L179.3 195.0 L179.5 195.1 L179.7 195.3 L179.9 195.4 L180.1 195.5 L180.3 195.6 L180.5 195.7 L180.8 195.6 L181.0 195.6 L181.2 195.5 L181.4 195.4 L181.6 195.4 L181.8 195.4 L182.0 195.5 L182.3 195.6 L182.5 195.8 L182.7 196.0 L182.9 195.7 L183.1 195.7 L183.3 195.5 L183.5 195.2 L183.8 195.3 L184.0 195.3 L184.2 195.4 L184.4 195.3 L184.6 195.4 L184.8 195.4 L185.0 195.2 L185.3 195.4 L185.5 195.3 L185.7 195.3 L185.9 195.6 L186.1 195.4 L186.3 195.2 L186.6 195.4 L186.8 195.2 L187.0 195.3 L187.2 195.5 L187.4 195.5 L187.6 195.8 L187.8 195.8 L188.1 195.7 L188.3 195.5 L188.5 195.5 L188.7 195.7 L188.9 195.8 L189.1 195.8 L189.3 195.7 L189.6 195.5 L189.8 195.5 L190.0 195.5 L190.2 195.4 L190.4 195.5 L190.6 195.6 L190.8 195.7 L191.1 195.7 L191.3 195.5 L191.5 195.2 L191.7 195.1 L191.9 195.0 L192.1 195.4 L192.3 195.6 L192.6 195.5 L192.8 195.6 L193.0 195.5 L193.2 195.5 L193.4 195.5 L193.6 195.3 L193.8 195.1 L194.1 195.2 L194.3 195.0 L194.5 195.1 L194.7 195.2 L194.9 195.2 L195.1 195.3 L195.4 195.3 L195.6 195.0 L195.8 194.7 L196.0 194.5 L196.2 194.5 L196.4 194.5 L196.6 194.4 L196.9 194.3 L197.1 194.2 L197.3 194.0 L197.5 193.7 L197.7 193.5 L197.9 192.8 L198.1 192.5 L198.4 191.9 L198.6 190.9 L198.8 190.0 L199.0 188.7 L199.2 187.2 L199.4 185.7 L199.6 184.0 L199.9 182.0 L200.1 179.9 L200.3 177.7 L200.5 175.8 L200.7 174.5 L200.9 173.6 L201.1 173.8 L201.4 174.6 L201.6 176.0 L201.8 178.1 L202.0 180.2 L202.2 182.4 L202.4 184.4 L202.6 186.2 L202.9 187.8 L203.1 189.2 L203.3 190.4 L203.5 191.5 L203.7 192.3 L203.9 192.9 L204.2 193.2 L204.4 193.5 L204.6 193.6 L204.8 193.9 L205.0 194.1 L205.2 194.4 L205.4 194.9 L205.7 194.9 L205.9 195.2 L206.1 195.2 L206.3 194.9 L206.5 195.0 L206.7 194.9 L206.9 195.1 L207.2 195.2 L207.4 195.2 L207.6 195.1 L207.8 195.0 L208.0 195.1 L208.2 195.3 L208.4 195.4 L208.7 195.6 L208.9 195.4 L209.1 195.4 L209.3 195.4 L209.5 195.1 L209.7 195.2 L209.9 195.3 L210.2 195.4 L210.4 195.4 L210.6 195.3 L210.8 195.4 L211.0 195.4 L211.2 195.6 L211.4 195.6 L211.7 195.5 L211.9 195.5 L212.1 195.4 L212.3 195.4 L212.5 195.4 L212.7 195.6 L213.0 195.6 L213.2 195.5 L213.4 195.6 L213.6 195.5 L213.8 195.4 L214.0 195.5 L214.2 195.4 L214.5 195.4 L214.7 195.4 L214.9 195.4 L215.1 195.4 L215.3 195.4 L215.5 195.6 L215.7 195.7 L216.0 195.9 L216.2 196.0 L216.4 195.8 L216.6 196.1 L216.8 195.9 L217.0 195.8 L217.2 195.7 L217.5 195.6 L217.7 195.5 L217.9 195.2 L218.1 195.3 L218.3 195.2 L218.5 195.4 L218.7 195.6 L219.0 195.6 L219.2 195.7 L219.4 195.6 L219.6 195.3 L219.8 195.3 L220.0 195.2 L220.2 195.0 L220.5 194.9 L220.7 194.6 L220.9 194.5 L221.1 194.5 L221.3 194.7 L221.5 195.1 L221.8 195.4 L222.0 195.5 L222.2 195.6 L222.4 195.6 L222.6 195.6 L222.8 195.7 L223.0 195.9 L223.3 195.9 L223.5 195.8 L223.7 195.8 L223.9 195.5 L224.1 195.5 L224.3 195.6 L224.5 195.4 L224.8 195.6 L225.0 195.6 L225.2 195.6 L225.4 195.7 L225.6 195.5 L225.8 195.5 L226.0 195.6 L226.3 195.5 L226.5 195.5 L226.7 195.4 L226.9 195.4 L227.1 195.4 L227.3 195.5 L227.5 195.5 L227.8 195.7 L228.0 195.9 L228.2 195.6 L228.4 195.5 L228.6 195.3 L228.8 195.2 L229.0 195.7 L229.3 195.8 L229.5 195.6 L229.7 195.6 L229.9 195.5 L230.1 195.4 L230.3 195.8 L230.6 195.6 L230.8 195.7 L231.0 195.5 L231.2 195.4 L231.4 195.6 L231.6 195.7 L231.8 195.7 L232.1 195.6 L232.3 195.6 L232.5 195.4 L232.7 195.6 L232.9 195.6 L233.1 195.5 L233.3 195.7 L233.6 195.5 L233.8 195.7 L234.0 195.6 L234.2 195.7 L234.4 195.6 L234.6 195.6 L234.8 195.6 L235.1 195.4 L235.3 195.4 L235.5 195.3 L235.7 195.6 L235.9 195.7 L236.1 195.8 L236.3 195.9 L236.6 196.0 L236.8 195.9 L237.0 195.9 L237.2 195.9 L237.4 195.6 L237.6 195.6 L237.9 195.6 L238.1 195.5 L238.3 195.4 L238.5 195.4 L238.7 195.2 L238.9 195.4 L239.1 195.6 L239.4 195.5 L239.6 195.7 L239.8 195.6 L240.0 195.5 L240.2 195.6 L240.4 195.7 L240.6 195.7 L240.9 195.6 L241.1 195.6 L241.3 195.5 L241.5 195.3 L241.7 195.4 L241.9 195.4 L242.1 195.1 L242.4 195.2 L242.6 195.3 L242.8 195.4 L243.0 195.5 L243.2 195.6 L243.4 195.6 L243.6 195.8 L243.9 195.8 L244.1 195.7 L244.3 195.6 L244.5 195.4 L244.7 195.5 L244.9 195.5 L245.1 195.5 L245.4 195.3 L245.6 195.3 L245.8 195.2 L246.0 195.1 L246.2 195.2 L246.4 195.3 L246.7 195.5 L246.9 195.5 L247.1 195.6 L247.3 195.6 L247.5 195.5 L247.7 195.5 L247.9 195.2 L248.2 195.2 L248.4 195.3 L248.6 195.5 L248.8 195.6 L249.0 195.6 L249.2 195.6 L249.4 195.5 L249.7 195.5 L249.9 195.0 L250.1 194.8 L250.3 194.6 L250.5 194.5 L250.7 194.7 L250.9 194.7 L251.2 195.1 L251.4 195.2 L251.6 195.3 L251.8 195.5 L252.0 195.4 L252.2 195.5 L252.4 195.6 L252.7 195.6 L252.9 195.6 L253.1 195.6 L253.3 195.5 L253.5 195.7 L253.7 195.7 L253.9 195.7 L254.2 195.6 L254.4 195.3 L254.6 195.1 L254.8 195.2 L255.0 195.3 L255.2 195.3 L255.5 195.3 L255.7 195.3 L255.9 195.2 L256.1 195.2 L256.3 195.3 L256.5 195.4 L256.7 195.4 L257.0 195.6 L257.2 195.5 L257.4 195.6 L257.6 195.6 L257.8 195.5 L258.0 195.6 L258.2 195.5 L258.5 195.6 L258.7 195.5 L258.9 195.3 L259.1 195.3 L259.3 195.2 L259.5 195.3 L259.7 195.5 L260.0 195.6 L260.2 195.7 L260.4 195.6 L260.6 195.6 L260.8 195.5 L261.0 195.5 L261.2 195.6 L261.5 195.5 L261.7 195.5 L261.9 195.6 L262.1 195.5 L262.3 195.7 L262.5 195.8 L262.7 195.6 L263.0 195.5 L263.2 195.3 L263.4 195.3 L263.6 195.6 L263.8 195.6 L264.0 195.7 L264.3 195.6 L264.5 195.3 L264.7 195.3 L264.9 195.2 L265.1 195.1 L265.3 195.3 L265.5 195.4 L265.8 195.6 L266.0 195.7 L266.2 195.7 L266.4 195.6 L266.6 195.6 L266.8 195.3 L267.0 195.3 L267.3 195.3 L267.5 195.1 L267.7 195.4 L267.9 195.6 L268.1 195.3 L268.3 195.4 L268.5 195.4 L268.8 195.3 L269.0 195.4 L269.2 195.4 L269.4 195.3 L269.6 195.4 L269.8 195.6 L270.0 195.5 L270.3 195.6 L270.5 195.4 L270.7 195.3 L270.9 195.2 L271.1 195.2 L271.3 195.3 L271.5 195.4 L271.8 195.5 L272.0 195.5 L272.2 195.4 L272.4 195.4 L272.6 195.3 L272.8 195.5 L273.1 195.6 L273.3 195.7 L273.5 195.9 L273.7 195.7 L273.9 195.8 L274.1 195.6 L274.3 195.6 L274.6 195.7 L274.8 195.5 L275.0 195.5 L275.2 195.4 L275.4 195.2 L275.6 195.2 L275.8 195.3 L276.1 195.3 L276.3 195.5 L276.5 195.5 L276.7 195.5 L276.9 195.3 L277.1 195.3 L277.3 195.3 L277.6 195.3 L277.8 195.5 L278.0 195.6 L278.2 195.6 L278.4 195.7 L278.6 195.5 L278.8 195.4 L279.1 195.2 L279.3 195.3 L279.5 195.5 L279.7 195.5 L279.9 195.6 L280.1 195.2 L280.3 195.0 L280.6 195.0 L280.8 195.1 L281.0 195.1 L281.2 195.2 L281.4 195.2 L281.6 195.2 L281.9 195.4 L282.1 195.4 L282.3 195.5 L282.5 195.5 L282.7 195.2 L282.9 195.2 L283.1 195.2 L283.4 195.3 L283.6 195.3 L283.8 195.4 L284.0 195.3 L284.2 195.3 L284.4 195.5 L284.6 195.3 L284.9 195.3 L285.1 195.3 L285.3 195.1 L285.5 195.2 L285.7 195.4 L285.9 195.2 L286.1 195.4 L286.4 195.5 L286.6 195.5 L286.8 195.6 L287.0 195.7 L287.2 195.7 L287.4 195.8 L287.6 195.8 L287.9 195.6 L288.1 195.7 L288.3 195.4 L288.5 195.3 L288.7 195.3 L288.9 195.2 L289.1 195.4 L289.4 195.4 L289.6 195.3 L289.8 195.3 L290.0 195.1 L290.2 195.4 L290.4 195.3 L290.7 195.4 L290.9 195.4 L291.1 195.2 L291.3 195.4 L291.5 195.3 L291.7 195.4 L291.9 195.5 L292.2 195.3 L292.4 195.3 L292.6 195.1 L292.8 195.0 L293.0 195.0 L293.2 195.1 L293.4 195.1 L293.7 195.3 L293.9 195.3 L294.1 195.1 L294.3 195.2 L294.5 195.1 L294.7 194.9 L294.9 194.9 L295.2 195.0 L295.4 194.9 L295.6 195.1 L295.8 195.2 L296.0 195.1 L296.2 195.0 L296.4 195.2 L296.7 195.0 L296.9 195.0 L297.1 195.0 L297.3 194.8 L297.5 195.0 L297.7 195.0 L298.0 195.0 L298.2 194.7 L298.4 194.6 L298.6 194.6 L298.8 194.4 L299.0 194.5 L299.2 194.3 L299.5 194.0 L299.7 193.9 L299.9 193.4 L300.1 192.8 L300.3 192.2 L300.5 191.3 L300.7 190.5 L301.0 189.7 L301.2 188.8 L301.4 188.1 L301.6 187.3 L301.8 186.4 L302.0 185.8 L302.2 184.9 L302.5 184.4 L302.7 184.3 L302.9 184.5 L303.1 185.1 L303.3 185.8 L303.5 186.7 L303.7 187.6 L304.0 188.5 L304.2 189.3 L304.4 189.9 L304.6 190.6 L304.8 191.3 L305.0 192.0 L305.2 192.8 L305.5 193.4 L305.7 193.7 L305.9 194.1 L306.1 194.2 L306.3 194.4 L306.5 194.5 L306.8 194.5 L307.0 194.6 L307.2 194.6 L307.4 194.6 L307.6 194.8 L307.8 194.9 L308.0 194.9 L308.3 195.0 L308.5 194.9 L308.7 195.1 L308.9 195.1 L309.1 195.2 L309.3 195.3 L309.5 195.1 L309.8 195.0 L310.0 194.9 L310.2 195.1 L310.4 195.2 L310.6 195.4 L310.8 195.2 L311.0 195.4 L311.3 195.4 L311.5 195.3 L311.7 195.4 L311.9 194.9 L312.1 195.0 L312.3 195.4 L312.5 195.5 L312.8 195.8 L313.0 195.6 L313.2 195.3 L313.4 195.2 L313.6 195.1 L313.8 195.2 L314.0 195.2 L314.3 195.2 L314.5 195.3 L314.7 195.5 L314.9 195.6 L315.1 195.6 L315.3 195.4 L315.6 195.2 L315.8 195.1 L316.0 195.1 L316.2 195.3 L316.4 195.5 L316.6 195.6 L316.8 195.5 L317.1 195.4 L317.3 195.2 L317.5 195.1 L317.7 195.3 L317.9 195.4 L318.1 195.4 L318.3 195.7 L318.6 195.5 L318.8 195.6 L319.0 195.6 L319.2 195.4 L319.4 195.4 L319.6 195.4 L319.8 195.6 L320.1 195.4 L320.3 195.3 L320.5 195.3 L320.7 195.2 L320.9 195.4 L321.1 195.6 L321.3 195.6 L321.6 195.8 L321.8 195.6 L322.0 195.7 L322.2 195.5 L322.4 195.2 L322.6 195.2 L322.8 195.2 L323.1 195.2 L323.3 195.2 L323.5 195.3 L323.7 195.3 L323.9 195.4 L324.1 195.5 L324.4 195.3 L324.6 195.3 L324.8 195.3 L325.0 195.4 L325.2 195.6 L325.4 195.6 L325.6 195.4 L325.9 195.3 L326.1 195.2 L326.3 195.3 L326.5 195.4 L326.7 195.4 L326.9 195.4 L327.1 195.2 L327.4 195.2 L327.6 195.2 L327.8 195.3 L328.0 195.4" stroke="#e41e26" stroke-width="1.45"/>
<path d="M27.5 154.6 L27.7 154.6 L27.9 154.5 L28.1 154.5 L28.4 154.5 L28.6 154.4 L28.8 154.6 L29.0 154.5 L29.2 154.5 L29.4 154.5 L29.6 154.5 L29.9 154.4 L30.1 154.4 L30.3 154.3 L30.5 154.3 L30.7 154.4 L30.9 154.4 L31.1 154.3 L31.4 154.2 L31.6 154.2 L31.8 154.2 L32.0 154.4 L32.2 154.5 L32.4 154.2 L32.7 154.1 L32.9 153.9 L33.1 153.8 L33.3 154.1 L33.5 154.3 L33.7 154.4 L33.9 154.4 L34.2 154.3 L34.4 154.5 L34.6 154.3 L34.8 154.5 L35.0 154.5 L35.2 154.1 L35.4 154.1 L35.7 154.0 L35.9 153.9 L36.1 154.0 L36.3 154.0 L36.5 153.9 L36.7 154.0 L36.9 154.0 L37.2 154.1 L37.4 154.1 L37.6 154.1 L37.8 154.2 L38.0 154.2 L38.2 154.2 L38.4 154.2 L38.7 154.1 L38.9 154.1 L39.1 154.1 L39.3 154.1 L39.5 154.1 L39.7 153.9 L39.9 154.0 L40.2 153.9 L40.4 153.9 L40.6 153.9 L40.8 153.8 L41.0 153.9 L41.2 153.8 L41.5 153.9 L41.7 154.0 L41.9 153.9 L42.1 153.9 L42.3 154.0 L42.5 153.9 L42.7 154.0 L43.0 154.0 L43.2 153.9 L43.4 154.0 L43.6 154.1 L43.8 153.8 L44.0 153.8 L44.2 153.7 L44.5 153.8 L44.7 153.9 L44.9 153.8 L45.1 153.7 L45.3 153.7 L45.5 153.7 L45.7 153.8 L46.0 153.9 L46.2 153.9 L46.4 153.8 L46.6 154.0 L46.8 154.0 L47.0 153.9 L47.2 153.9 L47.5 153.9 L47.7 153.6 L47.9 153.6 L48.1 153.7 L48.3 153.4 L48.5 153.6 L48.7 153.6 L49.0 153.7 L49.2 153.8 L49.4 153.8 L49.6 154.0 L49.8 153.9 L50.0 153.8 L50.3 153.6 L50.5 153.7 L50.7 153.6 L50.9 153.6 L51.1 153.8 L51.3 153.6 L51.5 153.7 L51.8 153.7 L52.0 153.7 L52.2 153.7 L52.4 153.6 L52.6 153.5 L52.8 153.6 L53.0 153.8 L53.3 153.6 L53.5 153.4 L53.7 153.4 L53.9 153.5 L54.1 153.6 L54.3 153.7 L54.5 153.7 L54.8 153.3 L55.0 153.4 L55.2 153.5 L55.4 153.5 L55.6 153.5 L55.8 153.5 L56.0 153.6 L56.3 153.4 L56.5 153.4 L56.7 153.3 L56.9 153.3 L57.1 153.3 L57.3 153.2 L57.6 153.4 L57.8 153.4 L58.0 153.5 L58.2 153.6 L58.4 153.5 L58.6 153.5 L58.8 153.5 L59.1 153.5 L59.3 153.4 L59.5 153.5 L59.7 153.4 L59.9 153.3 L60.1 153.3 L60.3 153.2 L60.6 153.4 L60.8 153.3 L61.0 153.4 L61.2 153.3 L61.4 153.1 L61.6 153.3 L61.8 153.2 L62.1 153.4 L62.3 153.4 L62.5 153.4 L62.7 153.4 L62.9 153.7 L63.1 153.7 L63.3 153.5 L63.6 153.5 L63.8 153.3 L64.0 153.3 L64.2 153.3 L64.4 153.3 L64.6 153.2 L64.8 153.2 L65.1 153.2 L65.3 153.1 L65.5 153.3 L65.7 153.3 L65.9 153.4 L66.1 153.5 L66.4 153.4 L66.6 153.5 L66.8 153.5 L67.0 153.4 L67.2 153.4 L67.4 153.2 L67.6 152.9 L67.9 153.0 L68.1 153.1 L68.3 153.2 L68.5 153.4 L68.7 153.1 L68.9 153.2 L69.1 152.9 L69.4 152.9 L69.6 153.2 L69.8 153.2 L70.0 153.3 L70.2 153.3 L70.4 153.5 L70.6 153.3 L70.9 153.4 L71.1 153.2 L71.3 153.0 L71.5 153.0 L71.7 153.1 L71.9 153.1 L72.1 153.1 L72.4 153.2 L72.6 153.0 L72.8 153.1 L73.0 153.0 L73.2 153.0 L73.4 152.9 L73.6 152.9 L73.9 152.9 L74.1 152.9 L74.3 153.0 L74.5 153.0 L74.7 153.1 L74.9 153.1 L75.2 153.1 L75.4 153.0 L75.6 152.9 L75.8 152.8 L76.0 152.9 L76.2 152.8 L76.4 152.8 L76.7 152.9 L76.9 152.9 L77.1 153.0 L77.3 152.9 L77.5 152.9 L77.7 152.9 L77.9 152.8 L78.2 153.0 L78.4 152.9 L78.6 152.8 L78.8 152.9 L79.0 152.8 L79.2 152.9 L79.4 152.8 L79.7 153.0 L79.9 152.9 L80.1 152.8 L80.3 153.0 L80.5 152.8 L80.7 152.9 L80.9 153.0 L81.2 152.9 L81.4 153.0 L81.6 152.8 L81.8 152.9 L82.0 152.9 L82.2 152.8 L82.4 152.9 L82.7 152.8 L82.9 152.9 L83.1 152.8 L83.3 152.9 L83.5 152.7 L83.7 152.6 L84.0 152.7 L84.2 152.5 L84.4 152.7 L84.6 152.7 L84.8 152.8 L85.0 152.9 L85.2 152.8 L85.5 152.8 L85.7 152.5 L85.9 152.9 L86.1 152.9 L86.3 152.8 L86.5 153.1 L86.7 152.8 L87.0 152.7 L87.2 152.8 L87.4 152.8 L87.6 152.7 L87.8 152.9 L88.0 152.9 L88.2 152.7 L88.5 152.8 L88.7 152.8 L88.9 152.7 L89.1 152.7 L89.3 152.6 L89.5 152.5 L89.7 152.6 L90.0 152.8 L90.2 152.9 L90.4 152.9 L90.6 152.9 L90.8 152.8 L91.0 152.8 L91.2 152.9 L91.5 152.9 L91.7 152.9 L91.9 152.8 L92.1 152.6 L92.3 152.5 L92.5 152.6 L92.8 152.6 L93.0 152.8 L93.2 152.8 L93.4 152.8 L93.6 152.9 L93.8 152.8 L94.0 152.9 L94.3 152.8 L94.5 152.6 L94.7 152.6 L94.9 152.5 L95.1 152.4 L95.3 152.5 L95.5 152.3 L95.8 152.4 L96.0 152.6 L96.2 152.5 L96.4 152.5 L96.6 152.3 L96.8 152.3 L97.0 152.2 L97.3 152.0 L97.5 151.8 L97.7 151.4 L97.9 150.9 L98.1 150.2 L98.3 149.2 L98.5 148.4 L98.8 147.8 L99.0 148.1 L99.2 149.0 L99.4 150.0 L99.6 151.2 L99.8 151.5 L100.0 152.0 L100.3 152.1 L100.5 152.1 L100.7 152.3 L100.9 152.2 L101.1 152.4 L101.3 152.4 L101.6 152.5 L101.8 152.5 L102.0 152.4 L102.2 152.5 L102.4 152.5 L102.6 152.4 L102.8 152.5 L103.1 152.5 L103.3 152.6 L103.5 152.7 L103.7 152.7 L103.9 152.5 L104.1 152.5 L104.3 152.5 L104.6 152.5 L104.8 152.7 L105.0 152.5 L105.2 152.6 L105.4 152.5 L105.6 152.5 L105.8 152.7 L106.1 152.6 L106.3 152.6 L106.5 152.6 L106.7 152.7 L106.9 152.6 L107.1 152.5 L107.3 152.6 L107.6 152.3 L107.8 152.3 L108.0 152.4 L108.2 152.4 L108.4 152.4 L108.6 152.6 L108.8 152.6 L109.1 152.6 L109.3 152.6 L109.5 152.7 L109.7 152.6 L109.9 152.4 L110.1 152.4 L110.4 152.4 L110.6 152.6 L110.8 152.5 L111.0 152.6 L111.2 152.5 L111.4 152.5 L111.6 152.5 L111.9 152.4 L112.1 152.2 L112.3 152.2 L112.5 152.3 L112.7 152.2 L112.9 152.4 L113.1 152.3 L113.4 152.2 L113.6 152.2 L113.8 152.3 L114.0 152.3 L114.2 152.4 L114.4 152.5 L114.6 152.4 L114.9 152.6 L115.1 152.5 L115.3 152.2 L115.5 152.2 L115.7 152.0 L115.9 152.1 L116.1 152.2 L116.4 152.2 L116.6 152.4 L116.8 152.3 L117.0 152.5 L117.2 152.4 L117.4 152.3 L117.7 152.3 L117.9 152.2 L118.1 152.2 L118.3 152.1 L118.5 151.8 L118.7 151.6 L118.9 151.0 L119.2 150.5 L119.4 150.1 L119.6 150.0 L119.8 150.1 L120.0 150.7 L120.2 151.2 L120.4 151.5 L120.7 151.9 L120.9 152.0 L121.1 152.1 L121.3 152.1 L121.5 152.1 L121.7 152.0 L121.9 151.9 L122.2 152.1 L122.4 152.3 L122.6 152.5 L122.8 152.6 L123.0 152.4 L123.2 152.3 L123.4 152.3 L123.7 152.5 L123.9 152.6 L124.1 152.6 L124.3 152.5 L124.5 152.3 L124.7 152.1 L124.9 152.1 L125.2 152.1 L125.4 152.3 L125.6 152.4 L125.8 152.5 L126.0 152.7 L126.2 152.5 L126.5 152.6 L126.7 152.6 L126.9 152.4 L127.1 152.4 L127.3 152.2 L127.5 152.1 L127.7 152.1 L128.0 152.1 L128.2 152.1 L128.4 152.1 L128.6 152.0 L128.8 151.8 L129.0 151.7 L129.2 151.6 L129.5 151.4 L129.7 151.1 L129.9 150.6 L130.1 149.9 L130.3 149.4 L130.5 149.2 L130.7 149.4 L131.0 150.0 L131.2 150.8 L131.4 151.3 L131.6 151.7 L131.8 152.1 L132.0 152.0 L132.2 152.1 L132.5 151.9 L132.7 151.9 L132.9 152.0 L133.1 152.1 L133.3 152.2 L133.5 152.2 L133.7 152.2 L134.0 151.9 L134.2 152.0 L134.4 152.0 L134.6 151.8 L134.8 152.2 L135.0 152.1 L135.3 152.0 L135.5 152.0 L135.7 151.9 L135.9 151.9 L136.1 152.1 L136.3 152.2 L136.5 152.2 L136.8 152.1 L137.0 152.0 L137.2 152.1 L137.4 152.0 L137.6 152.0 L137.8 152.0 L138.0 152.0 L138.3 152.1 L138.5 152.2 L138.7 152.1 L138.9 152.1 L139.1 152.2 L139.3 152.0 L139.5 152.2 L139.8 152.3 L140.0 152.1 L140.2 152.2 L140.4 152.1 L140.6 151.6 L140.8 151.3 L141.0 151.0 L141.3 150.8 L141.5 150.9 L141.7 151.3 L141.9 151.6 L142.1 151.7 L142.3 151.9 L142.5 152.1 L142.8 152.2 L143.0 152.4 L143.2 152.4 L143.4 152.3 L143.6 152.1 L143.8 152.1 L144.1 152.1 L144.3 152.1 L144.5 152.2 L144.7 152.0 L144.9 152.0 L145.1 152.0 L145.3 151.9 L145.6 151.9 L145.8 151.7 L146.0 151.4 L146.2 151.4 L146.4 151.4 L146.6 151.4 L146.8 151.5 L147.1 151.5 L147.3 151.5 L147.5 151.6 L147.7 151.8 L147.9 152.0 L148.1 152.1 L148.3 152.1 L148.6 152.1 L148.8 152.0 L149.0 152.0 L149.2 152.1 L149.4 151.9 L149.6 152.0 L149.8 152.0 L150.1 152.0 L150.3 152.3 L150.5 152.2 L150.7 151.9 L150.9 151.7 L151.1 151.5 L151.3 151.5 L151.6 151.7 L151.8 151.9 L152.0 152.0 L152.2 152.1 L152.4 152.0 L152.6 151.9 L152.9 152.0 L153.1 151.8 L153.3 151.6 L153.5 151.5 L153.7 151.5 L153.9 151.3 L154.1 151.5 L154.4 151.5 L154.6 151.4 L154.8 151.5 L155.0 151.5 L155.2 151.5 L155.4 151.7 L155.6 151.9 L155.9 151.8 L156.1 151.8 L156.3 151.7 L156.5 151.8 L156.7 152.0 L156.9 152.1 L157.1 152.2 L157.4 152.0 L157.6 151.9 L157.8 151.8 L158.0 151.6 L158.2 151.7 L158.4 151.6 L158.6 151.8 L158.9 151.7 L159.1 151.5 L159.3 151.7 L159.5 151.6 L159.7 151.8 L159.9 151.9 L160.1 151.8 L160.4 152.0 L160.6 152.0 L160.8 151.8 L161.0 151.7 L161.2 151.5 L161.4 151.4 L161.7 151.4 L161.9 151.7 L162.1 151.9 L162.3 151.8 L162.5 151.8 L162.7 151.7 L162.9 151.3 L163.2 151.3 L163.4 151.3 L163.6 151.1 L163.8 151.2 L164.0 151.1 L164.2 151.1 L164.4 151.1 L164.7 151.1 L164.9 151.1 L165.1 151.0 L165.3 151.0 L165.5 150.8 L165.7 150.5 L165.9 150.2 L166.2 149.9 L166.4 149.7 L166.6 149.8 L166.8 149.7 L167.0 149.6 L167.2 149.3 L167.4 148.8 L167.7 148.3 L167.9 147.8 L168.1 147.2 L168.3 146.4 L168.5 145.4 L168.7 143.6 L168.9 141.3 L169.2 137.5 L169.4 131.9 L169.6 124.2 L169.8 113.6 L170.0 101.0 L170.2 87.4 L170.5 76.0 L170.7 71.6 L170.9 76.3 L171.1 87.4 L171.3 101.1 L171.5 113.8 L171.7 124.2 L172.0 132.2 L172.2 137.7 L172.4 141.4 L172.6 144.0 L172.8 145.5 L173.0 146.6 L173.2 147.4 L173.5 148.0 L173.7 148.4 L173.9 148.9 L174.1 149.4 L174.3 149.7 L174.5 150.0 L174.7 150.0 L175.0 150.2 L175.2 150.0 L175.4 150.1 L175.6 150.4 L175.8 150.4 L176.0 150.9 L176.2 151.0 L176.5 151.0 L176.7 151.0 L176.9 150.8 L177.1 150.8 L177.3 150.7 L177.5 150.8 L177.8 150.9 L178.0 150.7 L178.2 150.6 L178.4 150.7 L178.6 150.8 L178.8 151.1 L179.0 151.2 L179.3 151.0 L179.5 151.2 L179.7 151.2 L179.9 151.4 L180.1 151.8 L180.3 151.7 L180.5 151.7 L180.8 151.6 L181.0 151.4 L181.2 151.4 L181.4 151.4 L181.6 151.5 L181.8 151.7 L182.0 151.8 L182.3 151.8 L182.5 151.8 L182.7 151.7 L182.9 151.4 L183.1 151.4 L183.3 151.2 L183.5 151.4 L183.8 151.6 L184.0 151.7 L184.2 151.8 L184.4 151.8 L184.6 151.6 L184.8 151.4 L185.0 151.5 L185.3 151.5 L185.5 151.4 L185.7 151.6 L185.9 151.4 L186.1 151.3 L186.3 151.4 L186.6 151.3 L186.8 151.3 L187.0 151.4 L187.2 151.6 L187.4 151.7 L187.6 151.8 L187.8 151.6 L188.1 151.5 L188.3 151.3 L188.5 151.3 L188.7 151.5 L188.9 151.6 L189.1 151.7 L189.3 151.6 L189.6 151.5 L189.8 151.3 L190.0 151.4 L190.2 151.4 L190.4 151.3 L190.6 151.4 L190.8 151.4 L191.1 151.3 L191.3 151.3 L191.5 151.4 L191.7 151.4 L191.9 151.6 L192.1 151.6 L192.3 151.3 L192.6 151.4 L192.8 151.3 L193.0 151.3 L193.2 151.3 L193.4 151.2 L193.6 150.9 L193.8 151.0 L194.1 150.9 L194.3 150.8 L194.5 150.8 L194.7 150.7 L194.9 151.0 L195.1 151.0 L195.4 151.2 L195.6 151.1 L195.8 150.9 L196.0 150.7 L196.2 150.6 L196.4 150.6 L196.6 150.7 L196.9 150.7 L197.1 150.4 L197.3 150.2 L197.5 150.0 L197.7 150.0 L197.9 149.6 L198.1 149.0 L198.4 148.1 L198.6 147.3 L198.8 146.4 L199.0 145.3 L199.2 144.1 L199.4 142.2 L199.6 140.2 L199.9 138.5 L200.1 136.5 L200.3 134.8 L200.5 133.2 L200.7 131.9 L200.9 131.4 L201.1 131.3 L201.4 132.2 L201.6 133.5 L201.8 135.1 L202.0 137.2 L202.2 139.1 L202.4 141.0 L202.6 142.7 L202.9 144.2 L203.1 145.5 L203.3 146.7 L203.5 147.7 L203.7 148.4 L203.9 148.9 L204.2 149.5 L204.4 149.8 L204.6 150.1 L204.8 150.4 L205.0 150.5 L205.2 150.6 L205.4 150.8 L205.7 150.7 L205.9 150.8 L206.1 150.9 L206.3 151.0 L206.5 151.1 L206.7 151.1 L206.9 150.9 L207.2 150.9 L207.4 151.1 L207.6 151.0 L207.8 151.2 L208.0 151.2 L208.2 151.3 L208.4 151.5 L208.7 151.5 L208.9 151.7 L209.1 151.5 L209.3 151.4 L209.5 151.1 L209.7 151.0 L209.9 151.2 L210.2 151.3 L210.4 151.6 L210.6 151.6 L210.8 151.6 L211.0 151.6 L211.2 151.6 L211.4 151.7 L211.7 151.7 L211.9 152.0 L212.1 151.9 L212.3 151.8 L212.5 151.8 L212.7 151.6 L213.0 151.6 L213.2 151.6 L213.4 151.7 L213.6 151.6 L213.8 151.7 L214.0 151.9 L214.2 151.7 L214.5 151.6 L214.7 151.4 L214.9 151.3 L215.1 151.4 L215.3 151.5 L215.5 151.5 L215.7 151.5 L216.0 151.7 L216.2 151.5 L216.4 151.6 L216.6 151.6 L216.8 151.4 L217.0 151.5 L217.2 151.7 L217.5 151.8 L217.7 151.9 L217.9 151.8 L218.1 151.9 L218.3 151.8 L218.5 151.7 L218.7 151.7 L219.0 151.4 L219.2 151.6 L219.4 151.7 L219.6 151.7 L219.8 151.5 L220.0 151.3 L220.2 151.1 L220.5 150.9 L220.7 151.0 L220.9 150.8 L221.1 151.0 L221.3 151.2 L221.5 151.1 L221.8 151.2 L222.0 151.1 L222.2 151.1 L222.4 151.4 L222.6 151.3 L222.8 151.6 L223.0 151.6 L223.3 151.5 L223.5 151.6 L223.7 151.5 L223.9 151.4 L224.1 151.5 L224.3 151.4 L224.5 151.4 L224.8 151.6 L225.0 151.5 L225.2 151.8 L225.4 151.5 L225.6 151.5 L225.8 151.7 L226.0 151.6 L226.3 151.8 L226.5 151.9 L226.7 151.6 L226.9 151.6 L227.1 151.5 L227.3 151.5 L227.5 151.5 L227.8 151.4 L228.0 151.3 L228.2 151.3 L228.4 151.4 L228.6 151.6 L228.8 151.5 L229.0 151.6 L229.3 151.6 L229.5 151.4 L229.7 151.5 L229.9 151.5 L230.1 151.6 L230.3 151.8 L230.6 151.8 L230.8 151.9 L231.0 151.8 L231.2 151.6 L231.4 151.4 L231.6 151.4 L231.8 151.3 L232.1 151.6 L232.3 151.7 L232.5 151.7 L232.7 151.9 L232.9 151.7 L233.1 151.7 L233.3 151.7 L233.6 151.5 L233.8 151.6 L234.0 151.5 L234.2 151.6 L234.4 151.5 L234.6 151.5 L234.8 151.5 L235.1 151.4 L235.3 151.4 L235.5 151.3 L235.7 151.5 L235.9 151.4 L236.1 151.3 L236.3 151.5 L236.6 151.5 L236.8 151.7 L237.0 151.8 L237.2 152.0 L237.4 151.8 L237.6 151.6 L237.9 151.5 L238.1 151.4 L238.3 151.5 L238.5 151.7 L238.7 151.9 L238.9 151.8 L239.1 151.7 L239.4 151.5 L239.6 151.6 L239.8 151.7 L240.0 151.8 L240.2 151.9 L240.4 151.7 L240.6 151.5 L240.9 151.5 L241.1 151.3 L241.3 151.3 L241.5 151.3 L241.7 151.3 L241.9 151.6 L242.1 151.7 L242.4 151.7 L242.6 151.7 L242.8 151.5 L243.0 151.3 L243.2 151.5 L243.4 151.3 L243.6 151.5 L243.9 151.6 L244.1 151.4 L244.3 151.6 L244.5 151.5 L244.7 151.2 L244.9 151.2 L245.1 151.0 L245.4 151.1 L245.6 151.3 L245.8 151.4 L246.0 151.5 L246.2 151.7 L246.4 151.7 L246.7 151.7 L246.9 151.8 L247.1 151.6 L247.3 151.5 L247.5 151.5 L247.7 151.6 L247.9 151.6 L248.2 151.8 L248.4 151.7 L248.6 151.5 L248.8 151.7 L249.0 151.5 L249.2 151.6 L249.4 151.7 L249.7 151.6 L249.9 151.4 L250.1 151.2 L250.3 151.0 L250.5 150.8 L250.7 150.7 L250.9 150.7 L251.2 150.6 L251.4 150.7 L251.6 151.1 L251.8 151.2 L252.0 151.4 L252.2 151.5 L252.4 151.4 L252.7 151.3 L252.9 151.3 L253.1 151.2 L253.3 151.3 L253.5 151.5 L253.7 151.4 L253.9 151.4 L254.2 151.5 L254.4 151.4 L254.6 151.6 L254.8 151.5 L255.0 151.6 L255.2 151.4 L255.5 151.4 L255.7 151.6 L255.9 151.7 L256.1 151.9 L256.3 152.0 L256.5 151.8 L256.7 151.6 L257.0 151.6 L257.2 151.5 L257.4 151.6 L257.6 151.5 L257.8 151.4 L258.0 151.5 L258.2 151.4 L258.5 151.5 L258.7 151.6 L258.9 151.6 L259.1 151.6 L259.3 151.6 L259.5 151.4 L259.7 151.3 L260.0 151.5 L260.2 151.5 L260.4 151.7 L260.6 151.7 L260.8 151.5 L261.0 151.7 L261.2 151.5 L261.5 151.5 L261.7 151.5 L261.9 151.5 L262.1 151.3 L262.3 151.4 L262.5 151.4 L262.7 151.3 L263.0 151.5 L263.2 151.5 L263.4 151.5 L263.6 151.5 L263.8 151.5 L264.0 151.5 L264.3 151.7 L264.5 151.6 L264.7 151.7 L264.9 151.6 L265.1 151.5 L265.3 151.6 L265.5 151.6 L265.8 151.8 L266.0 151.8 L266.2 151.9 L266.4 151.7 L266.6 151.5 L266.8 151.6 L267.0 151.5 L267.3 151.6 L267.5 151.6 L267.7 151.6 L267.9 151.6 L268.1 151.6 L268.3 151.6 L268.5 151.5 L268.8 151.6 L269.0 151.5 L269.2 151.6 L269.4 151.6 L269.6 151.5 L269.8 151.4 L270.0 151.4 L270.3 151.5 L270.5 151.5 L270.7 151.7 L270.9 151.7 L271.1 151.7 L271.3 151.7 L271.5 151.5 L271.8 151.5 L272.0 151.4 L272.2 151.3 L272.4 151.5 L272.6 151.5 L272.8 151.5 L273.1 151.6 L273.3 151.6 L273.5 151.6 L273.7 151.7 L273.9 151.6 L274.1 151.6 L274.3 151.6 L274.6 151.3 L274.8 151.2 L275.0 151.4 L275.2 151.2 L275.4 151.4 L275.6 151.5 L275.8 151.2 L276.1 151.2 L276.3 151.1 L276.5 151.2 L276.7 151.2 L276.9 151.4 L277.1 151.5 L277.3 151.6 L277.6 151.7 L277.8 151.8 L278.0 151.8 L278.2 151.6 L278.4 151.5 L278.6 151.5 L278.8 151.3 L279.1 151.3 L279.3 151.5 L279.5 151.5 L279.7 151.5 L279.9 151.6 L280.1 151.5 L280.3 151.5 L280.6 151.8 L280.8 151.6 L281.0 151.7 L281.2 151.4 L281.4 151.1 L281.6 151.2 L281.9 151.3 L282.1 151.6 L282.3 151.5 L282.5 151.6 L282.7 151.3 L282.9 151.3 L283.1 151.4 L283.4 151.5 L283.6 151.7 L283.8 151.7 L284.0 151.6 L284.2 151.4 L284.4 151.2 L284.6 151.2 L284.9 151.3 L285.1 151.4 L285.3 151.5 L285.5 151.3 L285.7 151.2 L285.9 151.3 L286.1 151.2 L286.4 151.3 L286.6 151.5 L286.8 151.4 L287.0 151.3 L287.2 151.3 L287.4 151.3 L287.6 151.4 L287.9 151.4 L288.1 151.4 L288.3 151.4 L288.5 151.5 L288.7 151.5 L288.9 151.6 L289.1 151.5 L289.4 151.4 L289.6 151.5 L289.8 151.6 L290.0 151.7 L290.2 151.6 L290.4 151.5 L290.7 151.4 L290.9 151.4 L291.1 151.6 L291.3 151.8 L291.5 151.7 L291.7 151.7 L291.9 151.3 L292.2 151.0 L292.4 151.2 L292.6 151.2 L292.8 151.2 L293.0 151.5 L293.2 151.4 L293.4 151.2 L293.7 151.4 L293.9 151.2 L294.1 151.3 L294.3 151.4 L294.5 151.3 L294.7 151.3 L294.9 151.3 L295.2 151.1 L295.4 150.9 L295.6 151.0 L295.8 150.9 L296.0 151.1 L296.2 151.4 L296.4 151.2 L296.7 151.3 L296.9 151.4 L297.1 151.4 L297.3 151.5 L297.5 151.6 L297.7 151.4 L298.0 151.3 L298.2 151.0 L298.4 150.7 L298.6 150.6 L298.8 150.5 L299.0 150.4 L299.2 150.4 L299.5 150.1 L299.7 149.9 L299.9 149.6 L300.1 149.1 L300.3 148.7 L300.5 148.0 L300.7 147.6 L301.0 146.8 L301.2 146.0 L301.4 145.4 L301.6 144.4 L301.8 143.8 L302.0 143.2 L302.2 142.5 L302.5 141.9 L302.7 141.9 L302.9 141.7 L303.1 142.0 L303.3 142.7 L303.5 143.4 L303.7 144.3 L304.0 145.3 L304.2 146.0 L304.4 146.6 L304.6 147.4 L304.8 148.2 L305.0 148.8 L305.2 149.2 L305.5 149.5 L305.7 149.9 L305.9 150.2 L306.1 150.7 L306.3 150.8 L306.5 150.8 L306.8 150.8 L307.0 150.9 L307.2 151.0 L307.4 151.0 L307.6 151.2 L307.8 151.1 L308.0 151.1 L308.3 151.1 L308.5 151.1 L308.7 151.3 L308.9 151.5 L309.1 151.6 L309.3 151.4 L309.5 151.5 L309.8 151.4 L310.0 151.3 L310.2 151.5 L310.4 151.3 L310.6 151.3 L310.8 151.3 L311.0 151.3 L311.3 151.1 L311.5 151.1 L311.7 151.1 L311.9 151.2 L312.1 151.4 L312.3 151.5 L312.5 151.5 L312.8 151.4 L313.0 151.6 L313.2 151.4 L313.4 151.2 L313.6 151.1 L313.8 150.8 L314.0 150.9 L314.3 151.1 L314.5 151.3 L314.7 151.5 L314.9 151.8 L315.1 151.7 L315.3 151.5 L315.6 151.5 L315.8 151.4 L316.0 151.4 L316.2 151.3 L316.4 151.4 L316.6 151.4 L316.8 151.4 L317.1 151.4 L317.3 151.3 L317.5 151.3 L317.7 151.3 L317.9 151.4 L318.1 151.5 L318.3 151.6 L318.6 151.5 L318.8 151.7 L319.0 151.5 L319.2 151.6 L319.4 151.9 L319.6 151.8 L319.8 151.8 L320.1 151.6 L320.3 151.5 L320.5 151.4 L320.7 151.4 L320.9 151.4 L321.1 151.4 L321.3 151.6 L321.6 151.4 L321.8 151.5 L322.0 151.5 L322.2 151.3 L322.4 151.6 L322.6 151.6 L322.8 151.5 L323.1 151.3 L323.3 151.1 L323.5 151.2 L323.7 151.2 L323.9 151.3 L324.1 151.5 L324.4 151.2 L324.6 151.3 L324.8 151.4 L325.0 151.6 L325.2 151.5 L325.4 151.6 L325.6 151.5 L325.9 151.2 L326.1 151.2 L326.3 151.0 L326.5 151.1 L326.7 151.1 L326.9 151.1 L327.1 151.2 L327.4 151.4 L327.6 151.4 L327.8 151.6 L328.0 151.6" stroke="#2020d8" stroke-width="1.45"/>
</g>
<rect x="27.5" y="40.4" width="300.5" height="202.6" fill="none" stroke="#000" stroke-width="2"/>
<path d="M27.50 244 V249.8 M48.96 244 V246.8 M70.43 244 V249.8 M91.89 244 V246.8 M113.36 244 V249.8 M134.82 244 V246.8 M156.29 244 V249.8 M177.75 244 V246.8 M199.21 244 V249.8 M220.68 244 V246.8 M242.14 244 V249.8 M263.61 244 V246.8 M285.07 244 V249.8 M306.54 244 V246.8 M328.00 244 V249.8" stroke="#000" stroke-width="1.8"/>
<g class="serif" font-size="14.6" fill="#111" stroke="#111" stroke-width="0.3"><text x="27.5" y="263.6" text-anchor="middle">10</text><text x="70.4" y="263.6" text-anchor="middle">20</text><text x="113.4" y="263.6" text-anchor="middle">30</text><text x="156.3" y="263.6" text-anchor="middle">40</text><text x="199.2" y="263.6" text-anchor="middle">50</text><text x="242.1" y="263.6" text-anchor="middle">60</text><text x="285.1" y="263.6" text-anchor="middle">70</text><text x="328.0" y="263.6" text-anchor="middle">80</text></g>
<text class="serif" x="109.3" y="277.5" font-size="15.5" fill="#111" stroke="#111" stroke-width="0.3" textLength="120.5" lengthAdjust="spacingAndGlyphs">Position [<tspan font-size="12" dy="-6.3">o</tspan><tspan dy="6.3">2Theta]</tspan></text>
<text class="serif" transform="translate(21.6,211.2) rotate(-90)" x="0" y="0" font-size="15" fill="#111" stroke="#111" stroke-width="0.3" textLength="53.5" lengthAdjust="spacingAndGlyphs">Intensity</text>
<text class="serif" transform="translate(21.6,155.2) rotate(-90)" x="0" y="0" font-size="15" fill="#111" stroke="#111" stroke-width="0.3" textLength="67.8" lengthAdjust="spacingAndGlyphs">(arb. units)</text>

<!-- inset text -->
<text class="serif" x="29.8" y="49.5" font-size="9.8" fill="#111" stroke="#111" stroke-width="0.2" textLength="81" lengthAdjust="spacingAndGlyphs">XRD of TiCN+Y<tspan font-size="5.6" dy="2.3">2</tspan><tspan dy="-2.3">O</tspan><tspan font-size="5.6" dy="2.3">3</tspan></text>
<text class="serif" x="29.8" y="65.7" font-size="8.8" fill="#111" stroke="#111" stroke-width="0.2" textLength="128.7" lengthAdjust="spacingAndGlyphs">reinforced Phosphorous Bronze</text>

<!-- legend XRD -->
<path d="M270.8 49.2 H301.5" stroke="#2020d8" stroke-width="1.7"/>
<path d="M270.8 63.3 H301.5" stroke="#e41e26" stroke-width="1.7"/>
<path d="M270.8 77.3 H301.5" stroke="#111" stroke-width="1.7"/>
<g class="serif" font-size="13.2" fill="#111" stroke="#111" stroke-width="0.3">
<text x="304.5" y="54.1">6%</text>
<text x="304.7" y="67.8">4%</text>
<text x="304.7" y="81.7">2%</text>
</g>

<!-- annotations -->
<g class="sans" fill="#14149e" stroke="#14149e" stroke-width="0.4" font-size="10">
<text x="167.8" y="68" textLength="23.2" lengthAdjust="spacingAndGlyphs">CuSn</text>
<text x="191" y="128.6" textLength="23.2" lengthAdjust="spacingAndGlyphs">CuSn</text>
<text x="89" y="143.4" >Y<tspan font-size="6.6">2</tspan>O<tspan font-size="6.6">3</tspan></text>
<text x="113.2" y="146.5" >Y<tspan font-size="6.6">2</tspan>O<tspan font-size="6.6">3</tspan></text>
<text x="216.3" y="134.6" >Y<tspan font-size="6.6">2</tspan>O<tspan font-size="6.6">3</tspan></text>
<text x="247.3" y="136.7" textLength="19.4" lengthAdjust="spacingAndGlyphs">TiCN</text>
<text x="301.4" y="137.2">Ni</text>
<text transform="translate(150.7,131.7) rotate(-90)" x="0" y="0" textLength="18" lengthAdjust="spacingAndGlyphs">TiCN</text>
</g>
<!-- arrows -->
<g fill="none" stroke="#777" stroke-width="0.8" stroke-dasharray="1.2 0.8">
<path d="M141.6 150 V137.5"/><path d="M147.9 150 V137.5"/><path d="M220.8 151 V137.5"/><path d="M251.3 151 V137.5"/>
</g>
<g fill="none" stroke="#222" stroke-width="1.05">
<path d="M138.5 142.3 L141.6 136.3 L144.7 142.3"/>
<path d="M144.8 142.3 L147.9 136.3 L151 142.3"/>
<path d="M217.1 142.6 L220.8 136.4 L224.5 142.6"/>
<path d="M247.6 142.6 L251.3 136.4 L255 142.6"/>
</g>

<!-- ============ FTIR ============ -->
<g fill="none" stroke-linejoin="round">
<path d="M372.0 96.0 L372.5 94.9 L373.0 95.0 L373.5 94.5 L374.0 94.3 L374.5 93.9 L375.0 93.9 L375.5 94.8 L376.0 96.8 L376.5 98.1 L377.0 96.7 L377.5 95.2 L378.0 95.3 L378.5 95.7 L379.0 95.9 L379.5 95.6 L380.0 95.2 L380.5 94.7 L381.0 94.9 L381.5 95.0 L382.0 95.9 L382.5 96.8 L383.0 98.2 L383.5 99.5 L384.0 100.7 L384.5 101.6 L385.0 101.1 L385.5 101.1 L386.0 100.4 L386.5 100.3 L387.0 100.0 L387.5 99.6 L388.0 99.5 L388.5 99.4 L389.0 99.6 L389.5 99.9 L390.0 100.0 L390.5 100.0 L391.0 100.1 L391.5 100.5 L392.0 100.4 L392.5 100.8 L393.0 101.0 L393.5 101.5 L394.0 101.7 L394.5 102.0 L395.0 102.3 L395.5 102.6 L396.0 103.1 L396.5 103.6 L397.0 103.9 L397.5 104.4 L398.0 104.7 L398.5 105.2 L399.0 105.6 L399.5 106.0 L400.0 106.4 L400.5 107.0 L401.0 107.2 L401.5 107.6 L402.0 107.9 L402.5 108.5 L403.0 108.7 L403.5 109.1 L404.0 109.6 L404.5 110.0 L405.0 110.3 L405.5 110.3 L406.0 110.8 L406.5 111.1 L407.0 111.5 L407.5 111.9 L408.0 112.5 L408.5 112.6 L409.0 112.9 L409.5 113.4 L410.0 113.7 L410.5 114.1 L411.0 114.3 L411.5 114.8 L412.0 115.2 L412.5 115.2 L413.0 115.6 L413.5 116.3 L414.0 116.5 L414.5 116.7 L415.0 116.9 L415.5 117.3 L416.0 117.5 L416.5 118.0 L417.0 118.7 L417.5 119.1 L418.0 119.9 L418.5 120.5 L419.0 121.3 L419.5 122.2 L420.0 122.5 L420.5 123.3 L421.0 123.9 L421.5 124.6 L422.0 125.3 L422.5 125.7 L423.0 125.9 L423.5 126.5 L424.0 126.8 L424.5 127.2 L425.0 127.9 L425.5 127.8 L426.0 128.3 L426.5 128.5 L427.0 129.0 L427.5 129.3 L428.0 129.6 L428.5 129.9 L429.0 130.3 L429.5 130.4 L430.0 130.7 L430.5 130.9 L431.0 131.5 L431.5 131.5 L432.0 131.6 L432.5 131.8 L433.0 132.4 L433.5 132.2 L434.0 132.5 L434.5 132.7 L435.0 132.8 L435.5 132.9 L436.0 133.2 L436.5 133.5 L437.0 133.5 L437.5 134.3 L438.0 134.4 L438.5 134.6 L439.0 134.8 L439.5 135.0 L440.0 135.5 L440.5 135.7 L441.0 136.1 L441.5 136.2 L442.0 136.7 L442.5 137.2 L443.0 137.3 L443.5 137.8 L444.0 138.0 L444.5 138.5 L445.0 138.8 L445.5 139.1 L446.0 139.3 L446.5 139.8 L447.0 140.2 L447.5 140.4 L448.0 141.0 L448.5 141.3 L449.0 141.5 L449.5 142.0 L450.0 142.8 L450.5 142.9 L451.0 143.2 L451.5 143.9 L452.0 143.9 L452.5 144.1 L453.0 144.5 L453.5 144.9 L454.0 145.5 L454.5 145.9 L455.0 145.8 L455.5 146.5 L456.0 146.5 L456.5 146.9 L457.0 147.1 L457.5 147.3 L458.0 147.5 L458.5 147.7 L459.0 147.8 L459.5 148.2 L460.0 148.5 L460.5 148.8 L461.0 149.2 L461.5 149.3 L462.0 149.6 L462.5 150.0 L463.0 150.1 L463.5 150.2 L464.0 150.4 L464.5 151.1 L465.0 151.4 L465.5 151.7 L466.0 151.9 L466.5 152.3 L467.0 152.9 L467.5 153.4 L468.0 154.1 L468.5 155.1 L469.0 156.3 L469.5 157.0 L470.0 158.0 L470.5 159.1 L471.0 160.0 L471.5 160.6 L472.0 160.2 L472.5 159.3 L473.0 158.4 L473.5 157.9 L474.0 157.5 L474.5 157.2 L475.0 156.9 L475.5 156.7 L476.0 156.9 L476.5 156.4 L477.0 156.7 L477.5 156.6 L478.0 156.9 L478.5 156.8 L479.0 156.9 L479.5 157.0 L480.0 157.0 L480.5 157.2 L481.0 157.0 L481.5 157.5 L482.0 157.5 L482.5 157.8 L483.0 158.1 L483.5 158.2 L484.0 158.6 L484.5 158.2 L485.0 158.6 L485.5 159.0 L486.0 158.9 L486.5 159.2 L487.0 159.6 L487.5 159.7 L488.0 159.6 L488.5 160.0 L489.0 160.2 L489.5 160.3 L490.0 160.5 L490.5 160.7 L491.0 160.7 L491.5 161.1 L492.0 161.2 L492.5 161.6 L493.0 161.9 L493.5 161.9 L494.0 162.3 L494.5 162.5 L495.0 162.7 L495.5 163.0 L496.0 163.1 L496.5 163.3 L497.0 163.6 L497.5 163.8 L498.0 164.1 L498.5 163.9 L499.0 164.4 L499.5 164.4 L500.0 164.8 L500.5 165.1 L501.0 165.3 L501.5 165.6 L502.0 165.7 L502.5 165.6 L503.0 166.0 L503.5 166.5 L504.0 166.7 L504.5 166.7 L505.0 166.7 L505.5 167.3 L506.0 167.0 L506.5 167.5 L507.0 167.7 L507.5 167.9 L508.0 167.9 L508.5 168.2 L509.0 168.5 L509.5 168.5 L510.0 168.6 L510.5 169.0 L511.0 169.2 L511.5 169.3 L512.0 169.4 L512.5 169.7 L513.0 169.8 L513.5 169.9 L514.0 170.3 L514.5 170.4 L515.0 170.6 L515.5 170.6 L516.0 170.9 L516.5 171.2 L517.0 171.5 L517.5 171.6 L518.0 171.8 L518.5 172.0 L519.0 172.2 L519.5 172.5 L520.0 172.4 L520.5 172.5 L521.0 172.7 L521.5 172.5 L522.0 172.9 L522.5 172.9 L523.0 173.0 L523.5 173.2 L524.0 173.3 L524.5 173.2 L525.0 173.5 L525.5 173.5 L526.0 173.8 L526.5 174.0 L527.0 174.0 L527.5 174.4 L528.0 174.7 L528.5 174.7 L529.0 175.0 L529.5 174.9 L530.0 175.1 L530.5 175.5 L531.0 175.3 L531.5 175.6 L532.0 175.7 L532.5 176.1 L533.0 176.2 L533.5 176.1 L534.0 176.3 L534.5 176.1 L535.0 176.7 L535.5 176.8 L536.0 177.0 L536.5 176.7 L537.0 177.1 L537.5 177.2 L538.0 177.1 L538.5 177.4 L539.0 177.6 L539.5 177.9 L540.0 177.9 L540.5 178.0 L541.0 178.2 L541.5 178.3 L542.0 178.4 L542.5 178.5 L543.0 178.8 L543.5 178.9 L544.0 179.2 L544.5 179.1 L545.0 179.5 L545.5 179.5 L546.0 179.7 L546.5 179.6 L547.0 179.8 L547.5 180.0 L548.0 180.3 L548.5 180.3 L549.0 180.5 L549.5 180.6 L550.0 180.8 L550.5 180.9 L551.0 180.9 L551.5 181.2 L552.0 181.3 L552.5 181.6 L553.0 181.5 L553.5 181.7 L554.0 181.7 L554.5 182.1 L555.0 182.2 L555.5 182.3 L556.0 182.2 L556.5 182.3 L557.0 182.6 L557.5 182.8 L558.0 183.0 L558.5 182.8 L559.0 183.1 L559.5 183.1 L560.0 183.3 L560.5 183.5 L561.0 183.8 L561.5 183.7 L562.0 183.8 L562.5 184.0 L563.0 184.3 L563.5 184.6 L564.0 184.2 L564.5 184.5 L565.0 184.6 L565.5 184.9 L566.0 185.0 L566.5 185.2 L567.0 185.1 L567.5 185.4 L568.0 185.5 L568.5 185.5 L569.0 185.8 L569.5 185.9 L570.0 186.5 L570.5 186.4 L571.0 186.5 L571.5 186.8 L572.0 187.4 L572.5 187.7 L573.0 188.3 L573.5 188.2 L574.0 188.1 L574.5 188.3 L575.0 188.8 L575.5 189.4 L576.0 190.0 L576.5 190.8 L577.0 191.0 L577.5 190.8 L578.0 190.4 L578.5 189.8 L579.0 190.1 L579.5 189.7 L580.0 189.7 L580.5 189.7 L581.0 189.8 L581.5 189.9 L582.0 189.5 L582.5 189.9 L583.0 189.7 L583.5 189.8 L584.0 190.0 L584.5 190.1 L585.0 190.1 L585.5 190.3 L586.0 190.8 L586.5 191.0 L587.0 191.2 L587.5 191.3 L588.0 191.7 L588.5 191.9 L589.0 192.1 L589.5 192.2 L590.0 192.7 L590.5 192.9 L591.0 193.2 L591.5 193.2 L592.0 193.7 L592.5 193.8 L593.0 194.2 L593.5 194.4 L594.0 194.5 L594.5 194.7 L595.0 195.1 L595.5 195.3 L596.0 195.8 L596.5 195.8 L597.0 196.0 L597.5 196.5 L598.0 197.0 L598.5 197.2 L599.0 197.2 L599.5 197.5 L600.0 197.8 L600.5 197.9 L601.0 198.2 L601.5 198.4 L602.0 198.5 L602.5 198.7 L603.0 198.9 L603.5 199.2 L604.0 199.3 L604.5 199.7 L605.0 199.8 L605.5 200.1 L606.0 200.3 L606.5 201.3 L607.0 201.3 L607.5 201.6 L608.0 202.0 L608.5 202.2 L609.0 202.7 L609.5 203.2 L610.0 203.8 L610.5 204.4 L611.0 205.1 L611.5 205.2 L612.0 206.0 L612.5 206.8 L613.0 207.2 L613.5 207.9 L614.0 208.6 L614.5 209.1 L615.0 209.8 L615.5 210.1 L616.0 210.8 L616.5 211.1 L617.0 211.6 L617.5 212.2 L618.0 212.6 L618.5 212.9 L619.0 213.0 L619.5 213.5 L620.0 213.5 L620.5 213.5 L621.0 213.3 L621.5 213.4 L622.0 213.2 L622.5 212.8 L623.0 212.6 L623.5 212.4 L624.0 212.4 L624.5 212.4 L625.0 211.8 L625.5 211.5 L626.0 211.1 L626.5 211.4 L627.0 210.6 L627.5 210.5 L628.0 210.1 L628.5 209.9 L629.0 209.2 L629.5 208.7 L630.0 208.4 L630.5 207.9 L631.0 207.4 L631.5 206.5 L632.0 206.0 L632.5 205.5 L633.0 204.7 L633.5 204.1 L634.0 203.6 L634.5 202.8 L635.0 202.1 L635.5 201.8 L636.0 201.6 L636.5 201.4 L637.0 201.2 L637.5 200.7 L638.0 200.9 L638.5 200.8 L639.0 200.7 L639.5 200.7 L640.0 200.6 L640.5 200.8 L641.0 200.7 L641.5 200.6 L642.0 200.7 L642.5 200.7 L643.0 200.8 L643.5 200.7 L644.0 200.8 L644.5 201.0 L645.0 201.4 L645.5 201.3 L646.0 201.1 L646.5 201.4 L647.0 201.4 L647.5 201.4 L648.0 201.6 L648.5 201.7 L649.0 201.9 L649.5 202.1 L650.0 202.2 L650.5 202.2 L651.0 202.2 L651.5 202.3 L652.0 202.4 L652.5 202.7 L653.0 202.5 L653.5 202.7 L654.0 203.0 L654.5 203.1 L655.0 203.1 L655.5 203.3 L656.0 203.4 L656.5 203.5 L657.0 203.7 L657.5 203.8 L658.0 203.8 L658.5 203.9 L659.0 203.8 L659.5 204.1 L660.0 204.4 L660.5 204.4 L661.0 204.4 L661.5 204.5 L662.0 204.5 L662.5 204.7 L663.0 205.0 L663.5 205.0 L664.0 205.0 L664.5 205.0 L665.0 205.0" stroke="#111" stroke-width="2"/>
<path d="M372.0 77.5 L372.5 77.3 L373.0 77.0 L373.5 76.7 L374.0 76.5 L374.5 75.9 L375.0 75.7 L375.5 75.5 L376.0 77.0 L376.5 78.4 L377.0 77.4 L377.5 76.7 L378.0 76.6 L378.5 77.3 L379.0 77.4 L379.5 77.5 L380.0 77.0 L380.5 76.6 L381.0 76.3 L381.5 76.7 L382.0 77.5 L382.5 78.3 L383.0 79.4 L383.5 80.5 L384.0 81.0 L384.5 81.5 L385.0 81.8 L385.5 81.7 L386.0 81.7 L386.5 81.3 L387.0 81.5 L387.5 81.2 L388.0 81.1 L388.5 81.0 L389.0 81.2 L389.5 81.3 L390.0 81.4 L390.5 81.4 L391.0 81.5 L391.5 81.9 L392.0 81.9 L392.5 82.0 L393.0 82.4 L393.5 82.4 L394.0 82.6 L394.5 82.8 L395.0 82.9 L395.5 83.0 L396.0 83.6 L396.5 84.2 L397.0 84.6 L397.5 85.3 L398.0 85.9 L398.5 86.3 L399.0 87.2 L399.5 87.9 L400.0 88.3 L400.5 88.7 L401.0 89.1 L401.5 89.5 L402.0 89.6 L402.5 89.8 L403.0 90.2 L403.5 90.2 L404.0 90.4 L404.5 90.8 L405.0 91.2 L405.5 91.6 L406.0 91.7 L406.5 92.0 L407.0 92.5 L407.5 92.9 L408.0 93.3 L408.5 93.7 L409.0 94.1 L409.5 94.4 L410.0 94.8 L410.5 94.9 L411.0 95.2 L411.5 95.7 L412.0 96.1 L412.5 96.5 L413.0 96.8 L413.5 97.2 L414.0 97.5 L414.5 97.6 L415.0 98.1 L415.5 98.7 L416.0 99.2 L416.5 99.4 L417.0 100.2 L417.5 100.5 L418.0 101.1 L418.5 101.6 L419.0 102.2 L419.5 102.6 L420.0 103.5 L420.5 104.3 L421.0 105.3 L421.5 106.4 L422.0 106.9 L422.5 107.6 L423.0 108.1 L423.5 108.3 L424.0 108.7 L424.5 109.0 L425.0 109.3 L425.5 109.7 L426.0 109.9 L426.5 110.2 L427.0 110.5 L427.5 111.0 L428.0 111.0 L428.5 111.4 L429.0 111.4 L429.5 112.0 L430.0 112.2 L430.5 112.5 L431.0 112.6 L431.5 112.8 L432.0 113.3 L432.5 113.5 L433.0 113.6 L433.5 113.8 L434.0 114.3 L434.5 114.5 L435.0 115.1 L435.5 115.0 L436.0 115.3 L436.5 115.6 L437.0 115.6 L437.5 116.0 L438.0 116.6 L438.5 116.6 L439.0 116.8 L439.5 117.0 L440.0 117.6 L440.5 117.9 L441.0 118.2 L441.5 118.5 L442.0 119.0 L442.5 119.4 L443.0 119.6 L443.5 120.2 L444.0 120.3 L444.5 120.8 L445.0 121.3 L445.5 121.7 L446.0 122.0 L446.5 122.6 L447.0 123.1 L447.5 123.5 L448.0 123.9 L448.5 124.3 L449.0 124.7 L449.5 124.8 L450.0 125.3 L450.5 125.8 L451.0 125.7 L451.5 126.2 L452.0 126.4 L452.5 126.6 L453.0 126.8 L453.5 127.1 L454.0 127.4 L454.5 127.6 L455.0 127.6 L455.5 128.0 L456.0 128.2 L456.5 128.5 L457.0 128.6 L457.5 128.8 L458.0 129.1 L458.5 129.2 L459.0 129.2 L459.5 129.5 L460.0 129.6 L460.5 129.6 L461.0 129.9 L461.5 130.6 L462.0 130.5 L462.5 130.6 L463.0 131.0 L463.5 131.5 L464.0 131.6 L464.5 132.0 L465.0 132.3 L465.5 132.7 L466.0 133.3 L466.5 133.8 L467.0 134.2 L467.5 134.8 L468.0 135.4 L468.5 135.8 L469.0 136.5 L469.5 137.6 L470.0 139.0 L470.5 140.6 L471.0 141.4 L471.5 141.5 L472.0 141.0 L472.5 140.5 L473.0 140.2 L473.5 139.4 L474.0 139.2 L474.5 138.7 L475.0 138.4 L475.5 138.2 L476.0 137.9 L476.5 138.0 L477.0 138.0 L477.5 138.0 L478.0 138.0 L478.5 138.0 L479.0 138.1 L479.5 138.2 L480.0 138.1 L480.5 137.9 L481.0 138.2 L481.5 138.3 L482.0 138.6 L482.5 139.0 L483.0 139.0 L483.5 139.3 L484.0 139.4 L484.5 139.7 L485.0 139.9 L485.5 140.4 L486.0 140.5 L486.5 140.6 L487.0 141.1 L487.5 140.9 L488.0 141.4 L488.5 141.6 L489.0 141.8 L489.5 141.9 L490.0 142.2 L490.5 142.4 L491.0 142.8 L491.5 142.6 L492.0 143.1 L492.5 143.4 L493.0 143.5 L493.5 143.6 L494.0 144.0 L494.5 144.2 L495.0 144.6 L495.5 144.9 L496.0 144.9 L496.5 144.9 L497.0 145.3 L497.5 145.4 L498.0 145.8 L498.5 146.1 L499.0 146.1 L499.5 146.5 L500.0 146.6 L500.5 146.7 L501.0 146.7 L501.5 147.0 L502.0 147.0 L502.5 147.4 L503.0 147.5 L503.5 147.8 L504.0 147.9 L504.5 147.8 L505.0 148.3 L505.5 148.5 L506.0 148.8 L506.5 148.7 L507.0 148.9 L507.5 149.2 L508.0 149.2 L508.5 149.4 L509.0 149.6 L509.5 150.2 L510.0 150.0 L510.5 150.2 L511.0 150.5 L511.5 150.7 L512.0 151.0 L512.5 151.2 L513.0 151.4 L513.5 151.5 L514.0 151.7 L514.5 151.8 L515.0 151.8 L515.5 152.4 L516.0 152.3 L516.5 152.7 L517.0 152.7 L517.5 153.0 L518.0 153.1 L518.5 153.2 L519.0 153.5 L519.5 153.7 L520.0 153.9 L520.5 154.0 L521.0 154.2 L521.5 154.2 L522.0 154.3 L522.5 154.1 L523.0 154.4 L523.5 154.7 L524.0 154.7 L524.5 154.9 L525.0 154.9 L525.5 155.0 L526.0 155.5 L526.5 155.4 L527.0 155.7 L527.5 155.8 L528.0 155.9 L528.5 155.8 L529.0 156.3 L529.5 156.3 L530.0 156.3 L530.5 156.9 L531.0 157.0 L531.5 157.2 L532.0 157.3 L532.5 157.4 L533.0 157.6 L533.5 157.7 L534.0 157.9 L534.5 158.1 L535.0 157.9 L535.5 158.5 L536.0 158.5 L536.5 158.8 L537.0 159.0 L537.5 158.9 L538.0 159.3 L538.5 159.5 L539.0 159.5 L539.5 159.7 L540.0 159.9 L540.5 159.8 L541.0 160.2 L541.5 160.5 L542.0 160.6 L542.5 160.7 L543.0 161.0 L543.5 161.4 L544.0 161.6 L544.5 161.5 L545.0 161.6 L545.5 161.8 L546.0 161.9 L546.5 162.0 L547.0 162.1 L547.5 162.3 L548.0 162.4 L548.5 162.1 L549.0 162.6 L549.5 162.6 L550.0 162.8 L550.5 162.8 L551.0 163.0 L551.5 163.3 L552.0 162.8 L552.5 163.5 L553.0 163.5 L553.5 163.4 L554.0 163.4 L554.5 163.9 L555.0 163.9 L555.5 164.3 L556.0 164.4 L556.5 164.5 L557.0 164.8 L557.5 164.8 L558.0 165.0 L558.5 165.2 L559.0 165.3 L559.5 165.5 L560.0 165.6 L560.5 165.5 L561.0 165.7 L561.5 165.9 L562.0 166.0 L562.5 166.0 L563.0 166.2 L563.5 166.5 L564.0 166.6 L564.5 166.9 L565.0 166.8 L565.5 166.9 L566.0 167.0 L566.5 167.2 L567.0 167.3 L567.5 167.3 L568.0 167.7 L568.5 167.9 L569.0 168.1 L569.5 167.9 L570.0 168.2 L570.5 168.6 L571.0 168.4 L571.5 168.6 L572.0 168.8 L572.5 169.5 L573.0 169.9 L573.5 169.9 L574.0 169.6 L574.5 169.8 L575.0 170.1 L575.5 171.0 L576.0 171.6 L576.5 172.2 L577.0 172.3 L577.5 172.5 L578.0 171.8 L578.5 171.6 L579.0 171.2 L579.5 171.5 L580.0 171.7 L580.5 171.5 L581.0 171.8 L581.5 171.9 L582.0 172.1 L582.5 172.3 L583.0 172.3 L583.5 172.5 L584.0 172.6 L584.5 172.7 L585.0 172.8 L585.5 173.2 L586.0 173.1 L586.5 173.4 L587.0 173.5 L587.5 173.5 L588.0 173.9 L588.5 173.8 L589.0 174.1 L589.5 174.3 L590.0 174.2 L590.5 174.3 L591.0 174.5 L591.5 175.0 L592.0 174.8 L592.5 174.8 L593.0 175.2 L593.5 175.2 L594.0 175.4 L594.5 175.4 L595.0 175.4 L595.5 175.8 L596.0 176.0 L596.5 176.1 L597.0 176.4 L597.5 176.7 L598.0 177.1 L598.5 177.3 L599.0 177.6 L599.5 177.7 L600.0 177.8 L600.5 178.3 L601.0 178.5 L601.5 178.8 L602.0 179.0 L602.5 179.2 L603.0 179.5 L603.5 179.6 L604.0 179.9 L604.5 180.3 L605.0 180.3 L605.5 180.8 L606.0 181.1 L606.5 181.3 L607.0 181.7 L607.5 181.8 L608.0 182.2 L608.5 182.6 L609.0 183.1 L609.5 183.5 L610.0 184.1 L610.5 185.0 L611.0 185.5 L611.5 186.1 L612.0 186.7 L612.5 187.5 L613.0 188.1 L613.5 189.1 L614.0 189.6 L614.5 190.2 L615.0 190.8 L615.5 191.4 L616.0 192.2 L616.5 193.0 L617.0 193.6 L617.5 194.0 L618.0 194.4 L618.5 194.6 L619.0 195.2 L619.5 195.4 L620.0 195.7 L620.5 195.4 L621.0 195.3 L621.5 195.1 L622.0 194.8 L622.5 194.8 L623.0 194.4 L623.5 194.2 L624.0 194.0 L624.5 193.7 L625.0 193.6 L625.5 193.3 L626.0 193.2 L626.5 192.7 L627.0 192.4 L627.5 192.0 L628.0 191.7 L628.5 191.3 L629.0 191.1 L629.5 190.4 L630.0 190.0 L630.5 189.3 L631.0 188.6 L631.5 187.8 L632.0 187.6 L632.5 187.2 L633.0 186.3 L633.5 185.9 L634.0 185.2 L634.5 184.5 L635.0 184.2 L635.5 183.6 L636.0 183.4 L636.5 183.3 L637.0 183.0 L637.5 182.7 L638.0 182.8 L638.5 182.4 L639.0 182.5 L639.5 182.5 L640.0 182.5 L640.5 182.4 L641.0 182.3 L641.5 182.7 L642.0 182.4 L642.5 182.4 L643.0 182.3 L643.5 182.7 L644.0 182.9 L644.5 183.0 L645.0 183.3 L645.5 183.3 L646.0 183.3 L646.5 183.3 L647.0 183.6 L647.5 183.5 L648.0 183.6 L648.5 183.5 L649.0 183.7 L649.5 184.0 L650.0 183.9 L650.5 184.0 L651.0 183.8 L651.5 184.3 L652.0 184.3 L652.5 184.5 L653.0 184.4 L653.5 184.4 L654.0 184.4 L654.5 184.7 L655.0 184.7 L655.5 184.7 L656.0 184.9 L656.5 184.9 L657.0 185.2 L657.5 185.1 L658.0 185.1 L658.5 185.4 L659.0 185.4 L659.5 185.7 L660.0 185.6 L660.5 185.6 L661.0 185.8 L661.5 185.9 L662.0 186.0 L662.5 186.1 L663.0 186.0 L663.5 186.2 L664.0 186.3 L664.5 186.3 L665.0 186.4" stroke="#e41e26" stroke-width="2"/>
<path d="M372.0 64.5 L372.5 64.2 L373.0 63.7 L373.5 63.0 L374.0 62.5 L374.5 62.2 L375.0 62.3 L375.5 62.2 L376.0 63.4 L376.5 64.3 L377.0 63.9 L377.5 63.0 L378.0 63.3 L378.5 63.6 L379.0 63.9 L379.5 64.3 L380.0 64.2 L380.5 63.9 L381.0 63.3 L381.5 62.9 L382.0 63.3 L382.5 64.3 L383.0 66.1 L383.5 67.4 L384.0 68.1 L384.5 68.7 L385.0 68.6 L385.5 68.3 L386.0 67.9 L386.5 67.8 L387.0 67.8 L387.5 67.5 L388.0 67.4 L388.5 67.7 L389.0 67.9 L389.5 68.0 L390.0 68.1 L390.5 68.2 L391.0 68.2 L391.5 68.3 L392.0 68.7 L392.5 68.9 L393.0 69.3 L393.5 69.3 L394.0 69.7 L394.5 70.1 L395.0 70.3 L395.5 70.9 L396.0 71.2 L396.5 71.4 L397.0 72.0 L397.5 72.3 L398.0 72.7 L398.5 73.0 L399.0 73.5 L399.5 73.6 L400.0 74.3 L400.5 74.7 L401.0 74.9 L401.5 75.6 L402.0 76.0 L402.5 76.6 L403.0 76.9 L403.5 77.5 L404.0 78.2 L404.5 78.6 L405.0 79.4 L405.5 79.9 L406.0 80.5 L406.5 80.8 L407.0 81.4 L407.5 81.7 L408.0 82.0 L408.5 82.4 L409.0 82.8 L409.5 83.2 L410.0 83.1 L410.5 83.7 L411.0 83.9 L411.5 84.1 L412.0 84.2 L412.5 84.8 L413.0 84.7 L413.5 85.2 L414.0 85.5 L414.5 85.5 L415.0 86.0 L415.5 86.2 L416.0 86.8 L416.5 87.4 L417.0 87.9 L417.5 87.9 L418.0 88.6 L418.5 89.4 L419.0 90.3 L419.5 90.9 L420.0 91.5 L420.5 92.3 L421.0 93.0 L421.5 93.7 L422.0 94.1 L422.5 94.6 L423.0 95.0 L423.5 95.2 L424.0 95.5 L424.5 95.7 L425.0 96.0 L425.5 96.5 L426.0 96.7 L426.5 96.8 L427.0 97.4 L427.5 97.6 L428.0 98.1 L428.5 98.1 L429.0 98.3 L429.5 98.5 L430.0 99.1 L430.5 99.5 L431.0 99.3 L431.5 99.6 L432.0 100.0 L432.5 100.1 L433.0 100.4 L433.5 100.7 L434.0 101.0 L434.5 101.4 L435.0 101.5 L435.5 101.9 L436.0 102.0 L436.5 102.4 L437.0 102.4 L437.5 102.8 L438.0 103.4 L438.5 103.6 L439.0 104.0 L439.5 104.3 L440.0 104.8 L440.5 105.0 L441.0 105.4 L441.5 105.5 L442.0 105.8 L442.5 106.1 L443.0 106.5 L443.5 106.7 L444.0 107.1 L444.5 107.5 L445.0 107.8 L445.5 108.1 L446.0 108.2 L446.5 108.8 L447.0 109.1 L447.5 109.5 L448.0 109.8 L448.5 110.0 L449.0 110.3 L449.5 110.9 L450.0 111.1 L450.5 111.5 L451.0 111.9 L451.5 111.8 L452.0 112.2 L452.5 112.5 L453.0 112.9 L453.5 113.1 L454.0 113.4 L454.5 113.6 L455.0 113.7 L455.5 114.1 L456.0 114.3 L456.5 114.7 L457.0 114.8 L457.5 115.2 L458.0 115.5 L458.5 115.6 L459.0 115.9 L459.5 116.1 L460.0 116.3 L460.5 116.7 L461.0 116.9 L461.5 117.3 L462.0 117.6 L462.5 118.0 L463.0 118.1 L463.5 118.7 L464.0 118.9 L464.5 119.3 L465.0 119.8 L465.5 120.2 L466.0 120.9 L466.5 121.3 L467.0 121.9 L467.5 122.5 L468.0 123.3 L468.5 123.7 L469.0 124.3 L469.5 125.4 L470.0 126.5 L470.5 128.0 L471.0 128.0 L471.5 128.1 L472.0 127.6 L472.5 126.8 L473.0 126.5 L473.5 126.2 L474.0 125.8 L474.5 125.5 L475.0 125.4 L475.5 125.3 L476.0 125.3 L476.5 125.3 L477.0 125.4 L477.5 125.2 L478.0 125.4 L478.5 125.3 L479.0 125.4 L479.5 125.7 L480.0 126.0 L480.5 126.0 L481.0 126.0 L481.5 126.2 L482.0 126.2 L482.5 126.4 L483.0 126.5 L483.5 126.3 L484.0 126.8 L484.5 126.7 L485.0 126.9 L485.5 127.0 L486.0 127.1 L486.5 127.4 L487.0 127.7 L487.5 128.0 L488.0 128.0 L488.5 128.3 L489.0 128.4 L489.5 128.4 L490.0 128.8 L490.5 129.1 L491.0 129.2 L491.5 129.5 L492.0 129.8 L492.5 129.9 L493.0 130.1 L493.5 130.5 L494.0 130.7 L494.5 130.9 L495.0 131.3 L495.5 131.6 L496.0 131.6 L496.5 131.9 L497.0 132.2 L497.5 132.4 L498.0 132.6 L498.5 132.7 L499.0 133.0 L499.5 133.4 L500.0 133.4 L500.5 133.5 L501.0 133.8 L501.5 134.1 L502.0 134.2 L502.5 134.3 L503.0 134.7 L503.5 134.6 L504.0 135.0 L504.5 135.1 L505.0 135.2 L505.5 135.6 L506.0 135.7 L506.5 135.7 L507.0 136.1 L507.5 136.2 L508.0 136.2 L508.5 136.5 L509.0 136.8 L509.5 137.1 L510.0 137.2 L510.5 137.3 L511.0 137.6 L511.5 137.7 L512.0 138.0 L512.5 138.1 L513.0 138.3 L513.5 138.5 L514.0 138.4 L514.5 138.6 L515.0 139.1 L515.5 139.1 L516.0 139.2 L516.5 139.4 L517.0 139.5 L517.5 139.7 L518.0 139.8 L518.5 140.1 L519.0 140.0 L519.5 140.5 L520.0 140.4 L520.5 140.4 L521.0 140.8 L521.5 140.9 L522.0 141.1 L522.5 141.1 L523.0 141.4 L523.5 142.0 L524.0 141.5 L524.5 141.9 L525.0 142.0 L525.5 142.2 L526.0 142.1 L526.5 142.3 L527.0 142.7 L527.5 142.8 L528.0 143.1 L528.5 143.0 L529.0 143.3 L529.5 143.7 L530.0 143.5 L530.5 143.6 L531.0 143.9 L531.5 144.0 L532.0 144.3 L532.5 144.3 L533.0 144.4 L533.5 144.7 L534.0 145.1 L534.5 145.1 L535.0 144.8 L535.5 145.2 L536.0 145.3 L536.5 145.6 L537.0 145.7 L537.5 146.1 L538.0 146.2 L538.5 146.3 L539.0 146.4 L539.5 146.5 L540.0 146.7 L540.5 147.0 L541.0 147.1 L541.5 147.1 L542.0 147.5 L542.5 147.5 L543.0 147.6 L543.5 147.7 L544.0 147.9 L544.5 148.0 L545.0 147.9 L545.5 148.5 L546.0 148.5 L546.5 148.5 L547.0 148.8 L547.5 148.9 L548.0 149.0 L548.5 148.7 L549.0 149.1 L549.5 149.3 L550.0 149.6 L550.5 149.8 L551.0 149.8 L551.5 149.7 L552.0 149.7 L552.5 150.1 L553.0 150.2 L553.5 150.5 L554.0 150.5 L554.5 150.7 L555.0 150.6 L555.5 151.0 L556.0 151.0 L556.5 151.3 L557.0 151.4 L557.5 151.5 L558.0 151.7 L558.5 151.8 L559.0 152.0 L559.5 152.1 L560.0 152.1 L560.5 152.3 L561.0 152.7 L561.5 152.6 L562.0 152.8 L562.5 152.9 L563.0 152.9 L563.5 153.0 L564.0 153.2 L564.5 153.4 L565.0 153.5 L565.5 153.4 L566.0 153.6 L566.5 153.8 L567.0 154.2 L567.5 153.8 L568.0 154.3 L568.5 154.3 L569.0 154.6 L569.5 154.7 L570.0 154.9 L570.5 155.3 L571.0 155.3 L571.5 155.6 L572.0 155.8 L572.5 156.3 L573.0 156.9 L573.5 156.6 L574.0 156.3 L574.5 156.6 L575.0 156.9 L575.5 157.6 L576.0 158.0 L576.5 158.4 L577.0 158.8 L577.5 158.6 L578.0 158.3 L578.5 157.8 L579.0 157.6 L579.5 157.6 L580.0 157.7 L580.5 157.9 L581.0 157.9 L581.5 157.9 L582.0 158.2 L582.5 158.2 L583.0 158.5 L583.5 158.5 L584.0 158.6 L584.5 158.9 L585.0 159.0 L585.5 158.9 L586.0 159.4 L586.5 159.7 L587.0 159.4 L587.5 159.9 L588.0 159.8 L588.5 160.0 L589.0 160.2 L589.5 160.2 L590.0 160.7 L590.5 160.7 L591.0 160.8 L591.5 161.0 L592.0 161.1 L592.5 161.4 L593.0 161.8 L593.5 161.7 L594.0 162.0 L594.5 162.3 L595.0 162.6 L595.5 162.9 L596.0 162.8 L596.5 163.0 L597.0 163.3 L597.5 163.4 L598.0 163.6 L598.5 164.0 L599.0 164.3 L599.5 164.3 L600.0 164.5 L600.5 164.8 L601.0 164.8 L601.5 165.2 L602.0 165.4 L602.5 166.1 L603.0 166.2 L603.5 166.4 L604.0 166.7 L604.5 166.7 L605.0 167.4 L605.5 167.8 L606.0 167.8 L606.5 168.3 L607.0 168.7 L607.5 168.7 L608.0 169.4 L608.5 169.8 L609.0 170.1 L609.5 170.6 L610.0 171.2 L610.5 171.5 L611.0 172.3 L611.5 173.0 L612.0 173.4 L612.5 174.3 L613.0 174.8 L613.5 175.4 L614.0 176.4 L614.5 177.0 L615.0 177.7 L615.5 178.1 L616.0 179.0 L616.5 179.3 L617.0 180.0 L617.5 180.3 L618.0 180.7 L618.5 181.2 L619.0 181.3 L619.5 181.5 L620.0 181.4 L620.5 181.7 L621.0 181.5 L621.5 181.1 L622.0 180.9 L622.5 180.5 L623.0 180.3 L623.5 180.1 L624.0 180.0 L624.5 179.8 L625.0 179.5 L625.5 179.4 L626.0 179.2 L626.5 178.8 L627.0 178.6 L627.5 178.1 L628.0 177.8 L628.5 177.5 L629.0 177.0 L629.5 176.6 L630.0 175.8 L630.5 175.4 L631.0 174.5 L631.5 174.0 L632.0 173.3 L632.5 173.1 L633.0 172.7 L633.5 172.3 L634.0 171.9 L634.5 171.2 L635.0 170.9 L635.5 170.6 L636.0 170.3 L636.5 170.2 L637.0 169.8 L637.5 169.5 L638.0 169.3 L638.5 168.9 L639.0 168.9 L639.5 168.9 L640.0 169.1 L640.5 169.0 L641.0 169.1 L641.5 169.1 L642.0 168.8 L642.5 169.0 L643.0 169.1 L643.5 169.0 L644.0 169.2 L644.5 169.5 L645.0 169.6 L645.5 169.7 L646.0 169.7 L646.5 169.8 L647.0 170.0 L647.5 169.9 L648.0 170.1 L648.5 170.3 L649.0 170.2 L649.5 170.2 L650.0 170.4 L650.5 170.5 L651.0 170.6 L651.5 170.6 L652.0 170.8 L652.5 170.6 L653.0 170.8 L653.5 171.0 L654.0 171.0 L654.5 171.1 L655.0 171.2 L655.5 171.4 L656.0 171.6 L656.5 171.6 L657.0 171.8 L657.5 172.1 L658.0 171.9 L658.5 172.2 L659.0 172.1 L659.5 172.0 L660.0 172.2 L660.5 172.2 L661.0 172.4 L661.5 172.3 L662.0 172.7 L662.5 172.6 L663.0 172.4 L663.5 172.8 L664.0 173.0 L664.5 172.8 L665.0 173.1" stroke="#2020d8" stroke-width="2"/>
</g>
<rect x="371.2" y="41.6" width="294.1" height="187" fill="none" stroke="#000" stroke-width="2"/>
<path d="M379.37 229.5 V236.5 M399.79 229.5 V233.5 M420.22 229.5 V236.5 M440.64 229.5 V233.5 M461.06 229.5 V236.5 M481.49 229.5 V233.5 M501.91 229.5 V236.5 M522.33 229.5 V233.5 M542.76 229.5 V236.5 M563.18 229.5 V233.5 M583.61 229.5 V236.5 M604.03 229.5 V233.5 M624.45 229.5 V236.5 M644.88 229.5 V233.5 M665.30 229.5 V236.5" stroke="#000" stroke-width="1.8"/>
<g class="serif" font-size="16.7" fill="#111" stroke="#111" stroke-width="0.3"><text x="379.4" y="255.9" text-anchor="middle" textLength="24.0" lengthAdjust="spacingAndGlyphs">500</text><text x="420.2" y="255.9" text-anchor="middle" textLength="32.0" lengthAdjust="spacingAndGlyphs">1000</text><text x="461.1" y="255.9" text-anchor="middle" textLength="32.0" lengthAdjust="spacingAndGlyphs">1500</text><text x="501.9" y="255.9" text-anchor="middle" textLength="32.0" lengthAdjust="spacingAndGlyphs">2000</text><text x="542.8" y="255.9" text-anchor="middle" textLength="32.0" lengthAdjust="spacingAndGlyphs">2500</text><text x="583.6" y="255.9" text-anchor="middle" textLength="32.0" lengthAdjust="spacingAndGlyphs">3000</text><text x="624.5" y="255.9" text-anchor="middle" textLength="32.0" lengthAdjust="spacingAndGlyphs">3500</text><text x="665.3" y="255.9" text-anchor="middle" textLength="32.0" lengthAdjust="spacingAndGlyphs">4000</text></g>
<text class="serif" x="429.5" y="274.6" font-size="16.5" fill="#111" stroke="#111" stroke-width="0.3" textLength="142.3" lengthAdjust="spacingAndGlyphs">Wavenumber (cm<tspan font-size="14.5" dy="-10">-1</tspan><tspan dy="10">)</tspan></text>
<text class="serif" transform="translate(365.2,216.6) rotate(-90)" x="0" y="0" font-size="16.3" fill="#111" stroke="#111" stroke-width="0.3" textLength="143.3" lengthAdjust="spacingAndGlyphs">Transmittance (%)</text>

<!-- legend FTIR -->
<path d="M609.6 51 H641.8" stroke="#2020d8" stroke-width="2"/>
<path d="M609.6 64.2 H641.8" stroke="#e41e26" stroke-width="2"/>
<path d="M609.6 81.9 H641.8" stroke="#111" stroke-width="2"/>
<g class="serif" font-size="14.3" fill="#111" stroke="#111" stroke-width="0.3">
<text x="645" y="55.8">6%</text>
<text x="645.2" y="69">4%</text>
<text x="645.2" y="86.6">2%</text>
</g>
</svg>
</body></html>
